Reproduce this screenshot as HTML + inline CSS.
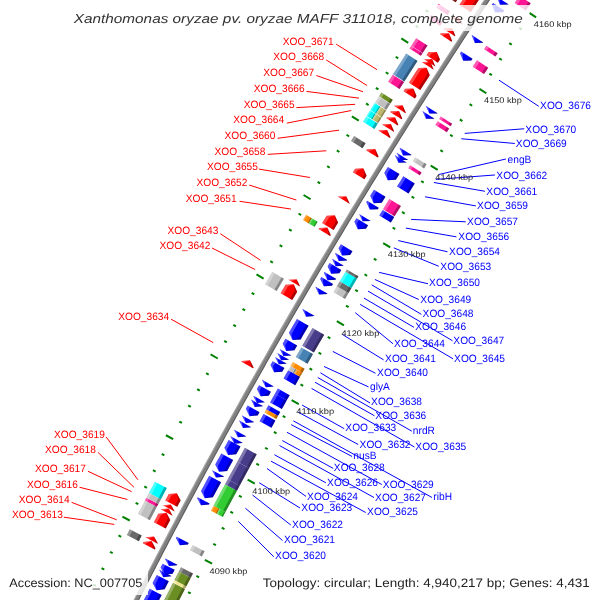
<!DOCTYPE html>
<html><head><meta charset="utf-8"><title>CGView</title>
<style>html,body{margin:0;padding:0;background:#fff;}svg{display:block;}text{text-rendering:geometricPrecision;}</style></head>
<body><svg width="600" height="600" viewBox="0 0 600 600" style="will-change:transform">
<rect width="600" height="600" fill="#fff"/>
<line x1="95.88" y1="586.01" x2="93.21" y2="584.65" stroke="#008000" stroke-width="2"/>
<line x1="171.46" y1="624.46" x2="174.13" y2="625.83" stroke="#008000" stroke-width="2"/>
<line x1="104.26" y1="569.59" x2="101.59" y2="568.22" stroke="#008000" stroke-width="2"/>
<line x1="179.73" y1="608.27" x2="182.40" y2="609.64" stroke="#008000" stroke-width="2"/>
<line x1="112.70" y1="553.20" x2="110.03" y2="551.82" stroke="#008000" stroke-width="2"/>
<line x1="188.05" y1="592.11" x2="190.71" y2="593.48" stroke="#008000" stroke-width="2"/>
<line x1="121.18" y1="536.83" x2="118.52" y2="535.44" stroke="#008000" stroke-width="2"/>
<line x1="196.41" y1="575.97" x2="199.07" y2="577.35" stroke="#008000" stroke-width="2"/>
<line x1="129.72" y1="520.49" x2="122.45" y2="516.68" stroke="#008000" stroke-width="2"/>
<line x1="204.83" y1="559.85" x2="212.09" y2="563.66" stroke="#008000" stroke-width="2"/>
<line x1="138.30" y1="504.17" x2="135.65" y2="502.77" stroke="#008000" stroke-width="2"/>
<line x1="213.29" y1="543.76" x2="215.94" y2="545.16" stroke="#008000" stroke-width="2"/>
<line x1="146.93" y1="487.88" x2="144.28" y2="486.47" stroke="#008000" stroke-width="2"/>
<line x1="221.80" y1="527.69" x2="224.45" y2="529.10" stroke="#008000" stroke-width="2"/>
<line x1="155.61" y1="471.61" x2="152.97" y2="470.20" stroke="#008000" stroke-width="2"/>
<line x1="230.36" y1="511.65" x2="233.01" y2="513.07" stroke="#008000" stroke-width="2"/>
<line x1="164.34" y1="455.38" x2="161.70" y2="453.95" stroke="#008000" stroke-width="2"/>
<line x1="238.97" y1="495.64" x2="241.61" y2="497.06" stroke="#008000" stroke-width="2"/>
<line x1="173.12" y1="439.16" x2="165.91" y2="435.25" stroke="#008000" stroke-width="2"/>
<line x1="247.63" y1="479.65" x2="254.83" y2="483.57" stroke="#008000" stroke-width="2"/>
<line x1="181.95" y1="422.98" x2="179.31" y2="421.54" stroke="#008000" stroke-width="2"/>
<line x1="256.33" y1="463.69" x2="258.96" y2="465.13" stroke="#008000" stroke-width="2"/>
<line x1="190.82" y1="406.82" x2="188.19" y2="405.37" stroke="#008000" stroke-width="2"/>
<line x1="265.09" y1="447.75" x2="267.71" y2="449.20" stroke="#008000" stroke-width="2"/>
<line x1="199.75" y1="390.69" x2="197.12" y2="389.23" stroke="#008000" stroke-width="2"/>
<line x1="273.89" y1="431.85" x2="276.51" y2="433.30" stroke="#008000" stroke-width="2"/>
<line x1="208.72" y1="374.58" x2="206.10" y2="373.12" stroke="#008000" stroke-width="2"/>
<line x1="282.73" y1="415.96" x2="285.35" y2="417.43" stroke="#008000" stroke-width="2"/>
<line x1="217.74" y1="358.50" x2="210.59" y2="354.48" stroke="#008000" stroke-width="2"/>
<line x1="291.63" y1="400.11" x2="298.78" y2="404.13" stroke="#008000" stroke-width="2"/>
<line x1="226.81" y1="342.45" x2="224.20" y2="340.97" stroke="#008000" stroke-width="2"/>
<line x1="300.57" y1="384.28" x2="303.18" y2="385.76" stroke="#008000" stroke-width="2"/>
<line x1="235.93" y1="326.43" x2="233.32" y2="324.94" stroke="#008000" stroke-width="2"/>
<line x1="309.57" y1="368.48" x2="312.17" y2="369.96" stroke="#008000" stroke-width="2"/>
<line x1="245.09" y1="310.43" x2="242.49" y2="308.94" stroke="#008000" stroke-width="2"/>
<line x1="318.61" y1="352.70" x2="321.21" y2="354.20" stroke="#008000" stroke-width="2"/>
<line x1="254.31" y1="294.46" x2="251.71" y2="292.96" stroke="#008000" stroke-width="2"/>
<line x1="327.69" y1="336.95" x2="330.29" y2="338.46" stroke="#008000" stroke-width="2"/>
<line x1="263.57" y1="278.52" x2="256.48" y2="274.39" stroke="#008000" stroke-width="2"/>
<line x1="336.83" y1="321.23" x2="343.91" y2="325.36" stroke="#008000" stroke-width="2"/>
<line x1="272.88" y1="262.61" x2="270.29" y2="261.09" stroke="#008000" stroke-width="2"/>
<line x1="346.01" y1="305.54" x2="348.59" y2="307.06" stroke="#008000" stroke-width="2"/>
<line x1="282.24" y1="246.72" x2="279.65" y2="245.20" stroke="#008000" stroke-width="2"/>
<line x1="355.24" y1="289.88" x2="357.82" y2="291.40" stroke="#008000" stroke-width="2"/>
<line x1="291.64" y1="230.87" x2="289.06" y2="229.33" stroke="#008000" stroke-width="2"/>
<line x1="364.51" y1="274.24" x2="367.09" y2="275.77" stroke="#008000" stroke-width="2"/>
<line x1="301.10" y1="215.04" x2="298.52" y2="213.50" stroke="#008000" stroke-width="2"/>
<line x1="373.83" y1="258.63" x2="376.41" y2="260.17" stroke="#008000" stroke-width="2"/>
<line x1="310.60" y1="199.24" x2="303.58" y2="195.00" stroke="#008000" stroke-width="2"/>
<line x1="383.20" y1="243.05" x2="390.22" y2="247.29" stroke="#008000" stroke-width="2"/>
<line x1="320.14" y1="183.47" x2="317.58" y2="181.91" stroke="#008000" stroke-width="2"/>
<line x1="392.62" y1="227.50" x2="395.18" y2="229.06" stroke="#008000" stroke-width="2"/>
<line x1="329.74" y1="167.73" x2="327.18" y2="166.16" stroke="#008000" stroke-width="2"/>
<line x1="402.08" y1="211.97" x2="404.64" y2="213.54" stroke="#008000" stroke-width="2"/>
<line x1="339.38" y1="152.01" x2="336.83" y2="150.44" stroke="#008000" stroke-width="2"/>
<line x1="411.59" y1="196.48" x2="414.15" y2="198.05" stroke="#008000" stroke-width="2"/>
<line x1="349.07" y1="136.33" x2="346.52" y2="134.75" stroke="#008000" stroke-width="2"/>
<line x1="421.15" y1="181.01" x2="423.70" y2="182.59" stroke="#008000" stroke-width="2"/>
<line x1="358.81" y1="120.67" x2="351.86" y2="116.33" stroke="#008000" stroke-width="2"/>
<line x1="430.75" y1="165.57" x2="437.71" y2="169.91" stroke="#008000" stroke-width="2"/>
<line x1="368.60" y1="105.05" x2="366.06" y2="103.45" stroke="#008000" stroke-width="2"/>
<line x1="440.40" y1="150.16" x2="442.94" y2="151.76" stroke="#008000" stroke-width="2"/>
<line x1="378.43" y1="89.45" x2="375.89" y2="87.85" stroke="#008000" stroke-width="2"/>
<line x1="450.10" y1="134.78" x2="452.63" y2="136.39" stroke="#008000" stroke-width="2"/>
<line x1="388.31" y1="73.89" x2="385.78" y2="72.28" stroke="#008000" stroke-width="2"/>
<line x1="459.84" y1="119.43" x2="462.37" y2="121.04" stroke="#008000" stroke-width="2"/>
<line x1="398.23" y1="58.35" x2="395.71" y2="56.73" stroke="#008000" stroke-width="2"/>
<line x1="469.63" y1="104.11" x2="472.15" y2="105.73" stroke="#008000" stroke-width="2"/>
<line x1="408.20" y1="42.84" x2="401.31" y2="38.40" stroke="#008000" stroke-width="2"/>
<line x1="479.46" y1="88.82" x2="486.35" y2="93.27" stroke="#008000" stroke-width="2"/>
<line x1="418.22" y1="27.37" x2="415.71" y2="25.73" stroke="#008000" stroke-width="2"/>
<line x1="489.34" y1="73.56" x2="491.86" y2="75.19" stroke="#008000" stroke-width="2"/>
<line x1="428.29" y1="11.92" x2="425.78" y2="10.28" stroke="#008000" stroke-width="2"/>
<line x1="499.27" y1="58.33" x2="501.78" y2="59.97" stroke="#008000" stroke-width="2"/>
<line x1="438.40" y1="-3.49" x2="435.89" y2="-5.14" stroke="#008000" stroke-width="2"/>
<line x1="509.24" y1="43.12" x2="511.74" y2="44.77" stroke="#008000" stroke-width="2"/>
<line x1="448.56" y1="-18.88" x2="446.06" y2="-20.54" stroke="#008000" stroke-width="2"/>
<line x1="519.25" y1="27.95" x2="521.76" y2="29.61" stroke="#008000" stroke-width="2"/>
<line x1="458.76" y1="-34.23" x2="451.94" y2="-38.78" stroke="#008000" stroke-width="2"/>
<line x1="529.32" y1="12.81" x2="536.14" y2="17.36" stroke="#008000" stroke-width="2"/>
<line x1="469.01" y1="-49.56" x2="466.52" y2="-51.23" stroke="#008000" stroke-width="2"/>
<line x1="539.43" y1="-2.30" x2="541.92" y2="-0.63" stroke="#008000" stroke-width="2"/>
<line x1="479.31" y1="-64.85" x2="476.82" y2="-66.53" stroke="#008000" stroke-width="2"/>
<line x1="549.58" y1="-17.38" x2="552.07" y2="-15.71" stroke="#008000" stroke-width="2"/>
<polygon points="114.93,636.80 117.64,631.39 120.37,625.97 123.10,620.56 125.83,615.16 128.57,609.75 131.32,604.35 134.07,598.95 136.82,593.55 139.58,588.16 142.35,582.77 145.12,577.38 147.90,571.99 150.68,566.61 153.47,561.23 156.26,555.85 159.06,550.48 161.86,545.11 164.67,539.74 167.49,534.37 170.31,529.01 173.13,523.65 175.96,518.29 178.80,512.94 181.64,507.58 184.49,502.24 187.34,496.89 190.20,491.55 193.06,486.20 195.93,480.87 198.80,475.53 201.68,470.20 204.56,464.87 207.45,459.54 210.35,454.22 213.25,448.90 216.15,443.58 219.06,438.27 221.98,432.96 224.90,427.65 227.83,422.34 230.76,417.04 233.69,411.74 236.64,406.44 239.58,401.15 242.54,395.85 245.49,390.57 248.46,385.28 251.43,380.00 254.40,374.72 257.38,369.44 260.36,364.17 263.35,358.90 266.35,353.63 269.35,348.36 272.35,343.10 275.36,337.84 278.38,332.59 281.40,327.34 284.42,322.09 287.46,316.84 290.49,311.60 293.53,306.35 296.58,301.12 299.63,295.88 302.69,290.65 305.75,285.42 308.82,280.20 311.89,274.97 314.97,269.76 318.06,264.54 321.14,259.33 324.24,254.12 327.34,248.91 330.44,243.70 333.55,238.50 336.67,233.31 339.79,228.11 342.91,222.92 346.04,217.73 349.18,212.55 352.32,207.36 355.46,202.18 358.61,197.01 361.77,191.84 364.93,186.67 368.09,181.50 371.27,176.34 374.44,171.18 377.62,166.02 380.81,160.87 384.00,155.71 387.20,150.57 390.40,145.42 393.61,140.28 396.82,135.14 400.04,130.01 403.26,124.88 406.49,119.75 409.72,114.62 412.96,109.50 416.20,104.38 419.45,99.27 422.70,94.16 425.96,89.05 429.22,83.94 432.49,78.84 435.77,73.74 439.05,68.64 442.33,63.55 445.62,58.46 448.91,53.38 452.21,48.29 455.51,43.21 458.82,38.14 462.14,33.06 465.46,27.99 468.78,22.93 472.11,17.86 475.44,12.81 478.78,7.75 482.13,2.70 485.48,-2.35 488.83,-7.40 492.19,-12.44 495.55,-17.48 498.92,-22.52 502.30,-27.55 505.68,-32.58 509.06,-37.61 512.45,-42.63 515.84,-47.65 519.24,-52.67 522.65,-57.68 526.78,-54.87 523.38,-49.86 519.99,-44.85 516.59,-39.83 513.21,-34.81 509.83,-29.79 506.45,-24.77 503.08,-19.74 499.71,-14.70 496.35,-9.67 492.99,-4.63 489.64,0.41 486.29,5.46 482.95,10.51 479.62,15.56 476.29,20.61 472.96,25.67 469.64,30.74 466.32,35.80 463.01,40.87 459.70,45.94 456.40,51.02 453.11,56.10 449.82,61.18 446.53,66.26 443.25,71.35 439.97,76.44 436.70,81.54 433.44,86.64 430.18,91.74 426.92,96.84 423.67,101.95 420.42,107.06 417.18,112.18 413.95,117.29 410.72,122.41 407.49,127.54 404.27,132.67 401.06,137.80 397.85,142.93 394.65,148.07 391.45,153.21 388.25,158.35 385.06,163.50 381.88,168.65 378.70,173.80 375.53,178.96 372.36,184.11 369.19,189.28 366.03,194.44 362.88,199.61 359.73,204.78 356.59,209.96 353.45,215.14 350.32,220.32 347.19,225.50 344.07,230.69 340.95,235.88 337.84,241.07 334.73,246.27 331.63,251.47 328.54,256.67 325.45,261.88 322.36,267.09 319.28,272.30 316.20,277.51 313.13,282.73 310.07,287.95 307.01,293.18 303.95,298.40 300.90,303.63 297.86,308.87 294.82,314.10 291.78,319.34 288.76,324.59 285.73,329.83 282.71,335.08 279.70,340.33 276.69,345.59 273.69,350.84 270.69,356.10 267.70,361.37 264.71,366.63 261.73,371.90 258.75,377.17 255.78,382.45 252.82,387.73 249.86,393.01 246.90,398.29 243.95,403.58 241.01,408.87 238.07,414.16 235.13,419.46 232.20,424.76 229.28,430.06 226.36,435.36 223.45,440.67 220.54,445.98 217.64,451.30 214.74,456.61 211.85,461.93 208.96,467.25 206.08,472.58 203.20,477.91 200.33,483.24 197.47,488.57 194.61,493.91 191.75,499.24 188.90,504.59 186.06,509.93 183.22,515.28 180.38,520.63 177.56,525.98 174.73,531.34 171.92,536.70 169.10,542.06 166.30,547.42 163.49,552.79 160.70,558.16 157.91,563.53 155.12,568.91 152.34,574.29 149.57,579.67 146.80,585.05 144.03,590.44 141.27,595.83 138.52,601.22 135.77,606.62 133.03,612.01 130.29,617.41 127.56,622.82 124.83,628.22 122.11,633.63 119.40,639.04" fill="#808080" />
<polygon points="114.93,636.80 117.64,631.39 120.37,625.97 123.10,620.56 125.83,615.16 128.57,609.75 131.32,604.35 134.07,598.95 136.82,593.55 139.58,588.16 142.35,582.77 145.12,577.38 147.90,571.99 150.68,566.61 153.47,561.23 156.26,555.85 159.06,550.48 161.86,545.11 164.67,539.74 167.49,534.37 170.31,529.01 173.13,523.65 175.96,518.29 178.80,512.94 181.64,507.58 184.49,502.24 187.34,496.89 190.20,491.55 193.06,486.20 195.93,480.87 198.80,475.53 201.68,470.20 204.56,464.87 207.45,459.54 210.35,454.22 213.25,448.90 216.15,443.58 219.06,438.27 221.98,432.96 224.90,427.65 227.83,422.34 230.76,417.04 233.69,411.74 236.64,406.44 239.58,401.15 242.54,395.85 245.49,390.57 248.46,385.28 251.43,380.00 254.40,374.72 257.38,369.44 260.36,364.17 263.35,358.90 266.35,353.63 269.35,348.36 272.35,343.10 275.36,337.84 278.38,332.59 281.40,327.34 284.42,322.09 287.46,316.84 290.49,311.60 293.53,306.35 296.58,301.12 299.63,295.88 302.69,290.65 305.75,285.42 308.82,280.20 311.89,274.97 314.97,269.76 318.06,264.54 321.14,259.33 324.24,254.12 327.34,248.91 330.44,243.70 333.55,238.50 336.67,233.31 339.79,228.11 342.91,222.92 346.04,217.73 349.18,212.55 352.32,207.36 355.46,202.18 358.61,197.01 361.77,191.84 364.93,186.67 368.09,181.50 371.27,176.34 374.44,171.18 377.62,166.02 380.81,160.87 384.00,155.71 387.20,150.57 390.40,145.42 393.61,140.28 396.82,135.14 400.04,130.01 403.26,124.88 406.49,119.75 409.72,114.62 412.96,109.50 416.20,104.38 419.45,99.27 422.70,94.16 425.96,89.05 429.22,83.94 432.49,78.84 435.77,73.74 439.05,68.64 442.33,63.55 445.62,58.46 448.91,53.38 452.21,48.29 455.51,43.21 458.82,38.14 462.14,33.06 465.46,27.99 468.78,22.93 472.11,17.86 475.44,12.81 478.78,7.75 482.13,2.70 485.48,-2.35 488.83,-7.40 492.19,-12.44 495.55,-17.48 498.92,-22.52 502.30,-27.55 505.68,-32.58 509.06,-37.61 512.45,-42.63 515.84,-47.65 519.24,-52.67 522.65,-57.68 523.56,-57.06 520.15,-52.05 516.76,-47.03 513.36,-42.02 509.97,-36.99 506.59,-31.97 503.21,-26.94 499.84,-21.91 496.47,-16.87 493.10,-11.83 489.75,-6.79 486.39,-1.75 483.04,3.30 479.70,8.36 476.36,13.41 473.03,18.47 469.70,23.53 466.38,28.60 463.06,33.67 459.74,38.74 456.44,43.81 453.13,48.89 449.83,53.97 446.54,59.06 443.25,64.15 439.97,69.24 436.69,74.33 433.42,79.43 430.15,84.53 426.89,89.64 423.63,94.75 420.38,99.86 417.13,104.97 413.89,110.09 410.65,115.21 407.42,120.34 404.19,125.46 400.97,130.59 397.75,135.73 394.54,140.86 391.34,146.00 388.13,151.15 384.94,156.29 381.75,161.44 378.56,166.60 375.38,171.75 372.20,176.91 369.03,182.07 365.87,187.24 362.71,192.41 359.55,197.58 356.40,202.76 353.26,207.93 350.12,213.12 346.98,218.30 343.85,223.49 340.73,228.68 337.61,233.87 334.49,239.07 331.39,244.27 328.28,249.47 325.18,254.68 322.09,259.89 319.00,265.10 315.92,270.31 312.84,275.53 309.77,280.75 306.70,285.98 303.64,291.21 300.58,296.44 297.53,301.67 294.49,306.91 291.44,312.15 288.41,317.39 285.38,322.64 282.35,327.88 279.33,333.14 276.32,338.39 273.31,343.65 270.30,348.91 267.30,354.17 264.31,359.44 261.32,364.71 258.34,369.98 255.36,375.26 252.38,380.54 249.42,385.82 246.45,391.10 243.50,396.39 240.54,401.68 237.60,406.98 234.66,412.27 231.72,417.57 228.79,422.87 225.86,428.18 222.94,433.49 220.03,438.80 217.12,444.11 214.21,449.43 211.31,454.75 208.42,460.07 205.53,465.39 202.65,470.72 199.77,476.05 196.90,481.39 194.03,486.73 191.17,492.06 188.31,497.41 185.46,502.75 182.61,508.10 179.77,513.45 176.94,518.81 174.11,524.16 171.28,529.52 168.46,534.88 165.65,540.25 162.84,545.62 160.04,550.99 157.24,556.36 154.45,561.74 151.66,567.12 148.88,572.50 146.10,577.88 143.33,583.27 140.56,588.66 137.80,594.05 135.05,599.45 132.30,604.85 129.55,610.25 126.81,615.65 124.08,621.06 121.35,626.47 118.63,631.88 115.91,637.30" fill="#fff" fill-opacity="0.3"/>
<polygon points="118.50,638.59 121.22,633.18 123.94,627.77 126.67,622.37 129.40,616.96 132.14,611.56 134.88,606.16 137.63,600.77 140.38,595.37 143.14,589.98 145.91,584.60 148.68,579.21 151.45,573.83 154.23,568.45 157.02,563.07 159.81,557.70 162.61,552.33 165.41,546.96 168.22,541.60 171.03,536.23 173.85,530.87 176.67,525.52 179.50,520.16 182.33,514.81 185.17,509.46 188.02,504.12 190.87,498.77 193.72,493.43 196.59,488.10 199.45,482.76 202.32,477.43 205.20,472.10 208.08,466.78 210.97,461.45 213.86,456.13 216.76,450.82 219.66,445.50 222.57,440.19 225.48,434.88 228.40,429.58 231.33,424.27 234.26,418.97 237.19,413.68 240.13,408.38 243.08,403.09 246.03,397.81 248.98,392.52 251.95,387.24 254.91,381.96 257.88,376.68 260.86,371.41 263.84,366.14 266.83,360.87 269.82,355.61 272.82,350.35 275.82,345.09 278.83,339.83 281.85,334.58 284.87,329.33 287.89,324.09 290.92,318.84 293.95,313.60 296.99,308.36 300.04,303.13 303.09,297.90 306.14,292.67 309.20,287.45 312.27,282.22 315.34,277.00 318.42,271.79 321.50,266.58 324.59,261.37 327.68,256.16 330.77,250.96 333.88,245.76 336.98,240.56 340.10,235.36 343.21,230.17 346.34,224.98 349.46,219.80 352.60,214.62 355.74,209.44 358.88,204.26 362.03,199.09 365.18,193.92 368.34,188.75 371.50,183.59 374.67,178.43 377.85,173.27 381.03,168.12 384.21,162.97 387.40,157.82 390.60,152.68 393.80,147.54 397.00,142.40 400.21,137.27 403.43,132.13 406.65,127.01 409.87,121.88 413.10,116.76 416.34,111.64 419.58,106.53 422.83,101.41 426.08,96.30 429.33,91.20 432.59,86.10 435.86,81.00 439.13,75.90 442.41,70.81 445.69,65.72 448.98,60.63 452.27,55.55 455.56,50.47 458.87,45.40 462.17,40.32 465.48,35.25 468.80,30.19 472.12,25.12 475.45,20.06 478.78,15.01 482.12,9.95 485.46,4.91 488.81,-0.14 492.16,-5.18 495.52,-10.22 498.88,-15.26 502.25,-20.29 505.62,-25.32 509.00,-30.35 512.38,-35.37 515.76,-40.39 519.16,-45.41 522.55,-50.42 525.96,-55.43 526.78,-54.87 523.38,-49.86 519.99,-44.85 516.59,-39.83 513.21,-34.81 509.83,-29.79 506.45,-24.77 503.08,-19.74 499.71,-14.70 496.35,-9.67 492.99,-4.63 489.64,0.41 486.29,5.46 482.95,10.51 479.62,15.56 476.29,20.61 472.96,25.67 469.64,30.74 466.32,35.80 463.01,40.87 459.70,45.94 456.40,51.02 453.11,56.10 449.82,61.18 446.53,66.26 443.25,71.35 439.97,76.44 436.70,81.54 433.44,86.64 430.18,91.74 426.92,96.84 423.67,101.95 420.42,107.06 417.18,112.18 413.95,117.29 410.72,122.41 407.49,127.54 404.27,132.67 401.06,137.80 397.85,142.93 394.65,148.07 391.45,153.21 388.25,158.35 385.06,163.50 381.88,168.65 378.70,173.80 375.53,178.96 372.36,184.11 369.19,189.28 366.03,194.44 362.88,199.61 359.73,204.78 356.59,209.96 353.45,215.14 350.32,220.32 347.19,225.50 344.07,230.69 340.95,235.88 337.84,241.07 334.73,246.27 331.63,251.47 328.54,256.67 325.45,261.88 322.36,267.09 319.28,272.30 316.20,277.51 313.13,282.73 310.07,287.95 307.01,293.18 303.95,298.40 300.90,303.63 297.86,308.87 294.82,314.10 291.78,319.34 288.76,324.59 285.73,329.83 282.71,335.08 279.70,340.33 276.69,345.59 273.69,350.84 270.69,356.10 267.70,361.37 264.71,366.63 261.73,371.90 258.75,377.17 255.78,382.45 252.82,387.73 249.86,393.01 246.90,398.29 243.95,403.58 241.01,408.87 238.07,414.16 235.13,419.46 232.20,424.76 229.28,430.06 226.36,435.36 223.45,440.67 220.54,445.98 217.64,451.30 214.74,456.61 211.85,461.93 208.96,467.25 206.08,472.58 203.20,477.91 200.33,483.24 197.47,488.57 194.61,493.91 191.75,499.24 188.90,504.59 186.06,509.93 183.22,515.28 180.38,520.63 177.56,525.98 174.73,531.34 171.92,536.70 169.10,542.06 166.30,547.42 163.49,552.79 160.70,558.16 157.91,563.53 155.12,568.91 152.34,574.29 149.57,579.67 146.80,585.05 144.03,590.44 141.27,595.83 138.52,601.22 135.77,606.62 133.03,612.01 130.29,617.41 127.56,622.82 124.83,628.22 122.11,633.63 119.40,639.04" fill="#000" fill-opacity="0.3"/>
<polygon points="142.83,543.22 143.46,542.00 151.57,541.05 155.43,548.24 154.80,549.46" fill="#ff0000" />
<polygon points="142.83,543.22 143.46,542.00 151.57,541.05 146.10,543.37 145.46,544.59" fill="#fff" fill-opacity="0.3"/>
<polygon points="152.40,548.21 153.04,546.99 151.57,541.05 155.43,548.24 154.80,549.46" fill="#000" fill-opacity="0.3"/>
<polygon points="145.80,537.52 145.89,537.36 153.99,536.42 157.85,543.61 157.77,543.77" fill="#ff0000" />
<polygon points="145.80,537.52 145.89,537.36 153.99,536.42 148.52,538.73 148.43,538.90" fill="#fff" fill-opacity="0.3"/>
<polygon points="155.37,542.52 155.46,542.36 153.99,536.42 157.85,543.61 157.77,543.77" fill="#000" fill-opacity="0.3"/>
<polygon points="153.82,522.23 156.07,517.96 158.32,513.70 166.43,512.79 170.25,520.00 168.01,524.26 165.77,528.51" fill="#ff0000" />
<polygon points="153.82,522.23 156.07,517.96 158.32,513.70 166.43,512.79 160.94,515.08 158.69,519.35 156.45,523.61" fill="#fff" fill-opacity="0.3"/>
<polygon points="163.38,527.26 165.62,523.00 167.87,518.74 166.43,512.79 170.25,520.00 168.01,524.26 165.77,528.51" fill="#000" fill-opacity="0.3"/>
<polygon points="160.63,509.31 168.66,508.58 172.57,515.63" fill="#ff0000" />
<polygon points="160.63,509.31 168.66,508.58 163.26,510.70" fill="#fff" fill-opacity="0.3"/>
<polygon points="170.18,514.36 168.66,508.58 172.57,515.63" fill="#000" fill-opacity="0.3"/>
<polygon points="162.83,505.17 170.77,504.61 174.75,511.50" fill="#ff0000" />
<polygon points="162.83,505.17 170.77,504.61 165.45,506.56" fill="#fff" fill-opacity="0.3"/>
<polygon points="172.37,510.23 170.77,504.61 174.75,511.50" fill="#000" fill-opacity="0.3"/>
<polygon points="165.32,500.47 167.03,497.26 168.73,494.06 176.85,493.19 180.65,500.41 178.94,503.60 177.25,506.80" fill="#ff0000" />
<polygon points="165.32,500.47 167.03,497.26 168.73,494.06 176.85,493.19 171.35,495.46 169.65,498.66 167.95,501.86" fill="#fff" fill-opacity="0.3"/>
<polygon points="174.86,505.53 176.56,502.34 178.26,499.14 176.85,493.19 180.65,500.41 178.94,503.60 177.25,506.80" fill="#000" fill-opacity="0.3"/>
<polygon points="241.37,361.69 241.82,360.89 249.96,360.22 253.58,367.53 253.13,368.33" fill="#ff0000" />
<polygon points="241.37,361.69 241.82,360.89 249.96,360.22 244.41,362.35 243.96,363.15" fill="#fff" fill-opacity="0.3"/>
<polygon points="250.77,367.00 251.23,366.20 249.96,360.22 253.58,367.53 253.13,368.33" fill="#000" fill-opacity="0.3"/>
<polygon points="280.58,293.33 283.05,289.08 285.53,284.84 293.67,284.28 297.18,291.65 294.71,295.88 292.24,300.12" fill="#ff0000" />
<polygon points="280.58,293.33 283.05,289.08 285.53,284.84 293.67,284.28 288.09,286.34 285.62,290.58 283.14,294.82" fill="#fff" fill-opacity="0.3"/>
<polygon points="289.91,298.76 292.38,294.52 294.85,290.29 293.67,284.28 297.18,291.65 294.71,295.88 292.24,300.12" fill="#000" fill-opacity="0.3"/>
<polygon points="288.50,279.77 296.59,279.30 300.15,286.59" fill="#ff0000" />
<polygon points="288.50,279.77 296.59,279.30 291.06,281.27" fill="#fff" fill-opacity="0.3"/>
<polygon points="297.82,285.22 296.59,279.30 300.15,286.59" fill="#000" fill-opacity="0.3"/>
<polygon points="318.58,228.95 319.15,228.00 327.30,227.53 330.73,234.94 330.17,235.88" fill="#ff0000" />
<polygon points="318.58,228.95 319.15,228.00 327.30,227.53 321.70,229.53 321.13,230.47" fill="#fff" fill-opacity="0.3"/>
<polygon points="327.85,234.49 328.42,233.55 327.30,227.53 330.73,234.94 330.17,235.88" fill="#000" fill-opacity="0.3"/>
<polygon points="322.08,223.12 324.33,219.38 326.57,215.64 334.72,215.19 338.14,222.60 335.90,226.33 333.65,230.06" fill="#ff0000" />
<polygon points="322.08,223.12 324.33,219.38 326.57,215.64 334.72,215.19 329.12,217.17 326.87,220.91 324.63,224.65" fill="#fff" fill-opacity="0.3"/>
<polygon points="331.34,228.67 333.58,224.94 335.83,221.21 334.72,215.19 338.14,222.60 335.90,226.33 333.65,230.06" fill="#000" fill-opacity="0.3"/>
<polygon points="338.03,196.70 338.07,196.62 346.23,196.20 349.61,203.62 349.57,203.70" fill="#ff0000" />
<polygon points="338.03,196.70 338.07,196.62 346.23,196.20 340.61,198.16 340.57,198.24" fill="#fff" fill-opacity="0.3"/>
<polygon points="347.26,202.30 347.31,202.22 346.23,196.20 349.61,203.62 349.57,203.70" fill="#000" fill-opacity="0.3"/>
<polygon points="352.91,172.31 355.12,168.71 363.27,168.34 366.62,175.78 364.41,179.37" fill="#ff0000" />
<polygon points="352.91,172.31 355.12,168.71 363.27,168.34 357.65,170.27 355.44,173.87" fill="#fff" fill-opacity="0.3"/>
<polygon points="362.11,177.96 364.32,174.37 363.27,168.34 366.62,175.78 364.41,179.37" fill="#000" fill-opacity="0.3"/>
<polygon points="366.35,150.50 367.08,149.33 375.23,148.98 378.55,156.44 377.83,157.61" fill="#ff0000" />
<polygon points="366.35,150.50 367.08,149.33 375.23,148.98 369.60,150.89 368.88,152.06" fill="#fff" fill-opacity="0.3"/>
<polygon points="375.53,156.19 376.26,155.02 375.23,148.98 378.55,156.44 377.83,157.61" fill="#000" fill-opacity="0.3"/>
<polygon points="378.58,130.84 378.96,130.22 387.12,129.91 390.41,137.37 390.03,138.00" fill="#ff0000" />
<polygon points="378.58,130.84 378.96,130.22 387.12,129.91 381.48,131.79 381.09,132.42" fill="#fff" fill-opacity="0.3"/>
<polygon points="387.74,136.57 388.12,135.94 387.12,129.91 390.41,137.37 390.03,138.00" fill="#000" fill-opacity="0.3"/>
<polygon points="382.42,124.69 382.72,124.23 390.87,123.92 394.16,131.39 393.86,131.86" fill="#ff0000" />
<polygon points="382.42,124.69 382.72,124.23 390.87,123.92 385.23,125.80 384.94,126.27" fill="#fff" fill-opacity="0.3"/>
<polygon points="391.58,130.42 391.87,129.96 390.87,123.92 394.16,131.39 393.86,131.86" fill="#000" fill-opacity="0.3"/>
<polygon points="386.42,118.31 386.86,117.61 395.02,117.32 398.30,124.79 397.86,125.49" fill="#ff0000" />
<polygon points="386.42,118.31 386.86,117.61 395.02,117.32 389.38,119.19 388.94,119.89" fill="#fff" fill-opacity="0.3"/>
<polygon points="395.57,124.05 396.01,123.36 395.02,117.32 398.30,124.79 397.86,125.49" fill="#000" fill-opacity="0.3"/>
<polygon points="390.29,112.17 390.82,111.31 398.98,111.03 402.25,118.51 401.71,119.36" fill="#ff0000" />
<polygon points="390.29,112.17 390.82,111.31 398.98,111.03 393.34,112.90 392.80,113.75" fill="#fff" fill-opacity="0.3"/>
<polygon points="399.43,117.92 399.96,117.07 398.98,111.03 402.25,118.51 401.71,119.36" fill="#000" fill-opacity="0.3"/>
<polygon points="394.20,105.95 394.40,105.64 402.56,105.37 405.82,112.85 405.62,113.16" fill="#ff0000" />
<polygon points="394.20,105.95 394.40,105.64 402.56,105.37 396.91,107.23 396.72,107.54" fill="#fff" fill-opacity="0.3"/>
<polygon points="403.34,111.72 403.53,111.41 402.56,105.37 405.82,112.85 405.62,113.16" fill="#000" fill-opacity="0.3"/>
<polygon points="403.54,91.21 405.17,88.65 413.33,88.40 416.56,95.90 414.94,98.45" fill="#ff0000" />
<polygon points="403.54,91.21 405.17,88.65 413.33,88.40 407.67,90.24 406.05,92.80" fill="#fff" fill-opacity="0.3"/>
<polygon points="412.66,97.00 414.28,94.45 413.33,88.40 416.56,95.90 414.94,98.45" fill="#000" fill-opacity="0.3"/>
<polygon points="408.92,82.76 412.08,77.81 415.25,72.86 418.42,67.91 426.58,67.69 429.78,75.20 426.61,80.14 423.45,85.08 420.30,90.02" fill="#ff0000" />
<polygon points="408.92,82.76 412.08,77.81 415.25,72.86 418.42,67.91 426.58,67.69 420.92,69.51 417.75,74.46 414.58,79.41 411.42,84.36" fill="#fff" fill-opacity="0.3"/>
<polygon points="418.02,88.57 421.18,83.62 424.34,78.68 427.51,73.74 426.58,67.69 429.78,75.20 426.61,80.14 423.45,85.08 420.30,90.02" fill="#000" fill-opacity="0.3"/>
<polygon points="422.04,62.27 422.19,62.03 430.35,61.83 433.54,69.34 433.40,69.57" fill="#ff0000" />
<polygon points="422.04,62.27 422.19,62.03 430.35,61.83 424.69,63.64 424.54,63.87" fill="#fff" fill-opacity="0.3"/>
<polygon points="431.12,68.11 431.27,67.88 430.35,61.83 433.54,69.34 433.40,69.57" fill="#000" fill-opacity="0.3"/>
<polygon points="423.98,59.25 432.14,59.05 435.33,66.56" fill="#ff0000" />
<polygon points="423.98,59.25 432.14,59.05 426.48,60.86" fill="#fff" fill-opacity="0.3"/>
<polygon points="433.06,65.10 432.14,59.05 435.33,66.56" fill="#000" fill-opacity="0.3"/>
<polygon points="426.52,55.32 428.61,52.08 436.77,51.89 439.95,59.40 437.86,62.63" fill="#ff0000" />
<polygon points="426.52,55.32 428.61,52.08 436.77,51.89 431.10,53.69 429.01,56.93" fill="#fff" fill-opacity="0.3"/>
<polygon points="435.59,61.17 437.68,57.94 436.77,51.89 439.95,59.40 437.86,62.63" fill="#000" fill-opacity="0.3"/>
<polygon points="440.15,34.27 440.75,33.35 448.92,33.19 452.07,40.72 451.47,41.64" fill="#ff0000" />
<polygon points="440.15,34.27 440.75,33.35 448.92,33.19 443.24,34.97 442.64,35.89" fill="#fff" fill-opacity="0.3"/>
<polygon points="449.20,40.17 449.81,39.24 448.92,33.19 452.07,40.72 451.47,41.64" fill="#000" fill-opacity="0.3"/>
<polygon points="443.66,28.89 444.02,28.35 452.18,28.20 455.32,35.73 454.97,36.26" fill="#ff0000" />
<polygon points="443.66,28.89 444.02,28.35 452.18,28.20 446.50,29.97 446.15,30.51" fill="#fff" fill-opacity="0.3"/>
<polygon points="452.71,34.79 453.06,34.25 452.18,28.20 455.32,35.73 454.97,36.26" fill="#000" fill-opacity="0.3"/>
<polygon points="451.20,17.36 459.27,17.38 462.49,24.76" fill="#ff0000" />
<polygon points="451.20,17.36 459.27,17.38 453.69,18.99" fill="#fff" fill-opacity="0.3"/>
<polygon points="460.24,23.28 459.27,17.38 462.49,24.76" fill="#000" fill-opacity="0.3"/>
<polygon points="459.43,4.85 462.59,0.06 465.76,-4.73 468.93,-9.52 472.10,-14.30 480.26,-14.38 483.35,-6.83 480.18,-2.06 477.01,2.72 473.86,7.50 470.70,12.28" fill="#ff0000" />
<polygon points="459.43,4.85 462.59,0.06 465.76,-4.73 468.93,-9.52 472.10,-14.30 480.26,-14.38 474.58,-12.66 471.40,-7.88 468.23,-3.09 465.07,1.69 461.91,6.48" fill="#fff" fill-opacity="0.3"/>
<polygon points="468.45,10.79 471.60,6.01 474.76,1.23 477.93,-3.55 481.10,-8.32 480.26,-14.38 483.35,-6.83 480.18,-2.06 477.01,2.72 473.86,7.50 470.70,12.28" fill="#000" fill-opacity="0.3"/>
<polygon points="149.67,588.76 147.03,593.91 144.39,599.07 141.76,604.22 145.70,611.36 153.79,610.36 156.41,605.21 159.05,600.06 161.68,594.92" fill="#0000ff" />
<polygon points="149.67,588.76 147.03,593.91 144.39,599.07 141.76,604.22 145.70,611.36 144.41,605.57 147.04,600.42 149.67,595.26 152.31,590.11" fill="#fff" fill-opacity="0.3"/>
<polygon points="159.28,593.69 156.64,598.83 154.01,603.98 151.38,609.13 145.70,611.36 153.79,610.36 156.41,605.21 159.05,600.06 161.68,594.92" fill="#000" fill-opacity="0.3"/>
<polygon points="156.79,574.94 154.69,579.00 152.60,583.06 156.51,590.21 164.60,589.24 166.69,585.19 168.78,581.13" fill="#0000ff" />
<polygon points="156.79,574.94 154.69,579.00 152.60,583.06 156.51,590.21 155.24,584.42 157.33,580.36 159.43,576.30" fill="#fff" fill-opacity="0.3"/>
<polygon points="166.38,579.89 164.29,583.95 162.20,588.01 156.51,590.21 164.60,589.24 166.69,585.19 168.78,581.13" fill="#000" fill-opacity="0.3"/>
<polygon points="159.44,569.82 159.31,570.06 163.21,577.22 171.30,576.27 171.42,576.03" fill="#0000ff" />
<polygon points="159.44,569.82 159.31,570.06 163.21,577.22 161.95,571.43 162.07,571.19" fill="#fff" fill-opacity="0.3"/>
<polygon points="169.03,574.79 168.90,575.03 163.21,577.22 171.30,576.27 171.42,576.03" fill="#000" fill-opacity="0.3"/>
<polygon points="162.63,563.65 160.61,567.55 164.51,574.71 172.60,573.76 174.62,569.87" fill="#0000ff" />
<polygon points="162.63,563.65 160.61,567.55 164.51,574.71 163.25,568.91 165.27,565.02" fill="#fff" fill-opacity="0.3"/>
<polygon points="172.22,568.63 170.20,572.52 164.51,574.71 172.60,573.76 174.62,569.87" fill="#000" fill-opacity="0.3"/>
<polygon points="165.33,558.46 165.08,558.94 168.96,566.11 177.06,565.18 177.31,564.69" fill="#0000ff" />
<polygon points="165.33,558.46 165.08,558.94 168.96,566.11 167.72,560.32 167.97,559.83" fill="#fff" fill-opacity="0.3"/>
<polygon points="174.91,563.44 174.66,563.93 168.96,566.11 177.06,565.18 177.31,564.69" fill="#000" fill-opacity="0.3"/>
<polygon points="176.74,536.66 175.97,538.12 179.82,545.30 187.92,544.40 188.68,542.94" fill="#0000ff" />
<polygon points="176.74,536.66 175.97,538.12 179.82,545.30 178.60,539.50 179.36,538.04" fill="#fff" fill-opacity="0.3"/>
<polygon points="186.29,541.69 185.53,543.14 179.82,545.30 187.92,544.40 188.68,542.94" fill="#000" fill-opacity="0.3"/>
<polygon points="197.64,497.24 197.17,498.13 200.97,505.34 209.07,504.49 209.55,503.61" fill="#0000ff" />
<polygon points="197.64,497.24 197.17,498.13 200.97,505.34 199.79,499.53 200.26,498.64" fill="#fff" fill-opacity="0.3"/>
<polygon points="207.16,502.33 206.69,503.22 200.97,505.34 209.07,504.49 209.55,503.61" fill="#000" fill-opacity="0.3"/>
<polygon points="209.20,475.73 206.47,480.80 203.74,485.88 201.01,490.95 204.80,498.17 212.91,497.33 215.63,492.27 218.35,487.21 221.08,482.15" fill="#0000ff" />
<polygon points="209.20,475.73 206.47,480.80 203.74,485.88 201.01,490.95 204.80,498.17 203.63,492.36 206.35,487.28 209.08,482.21 211.82,477.15" fill="#fff" fill-opacity="0.3"/>
<polygon points="218.71,480.87 215.97,485.93 213.25,490.99 210.53,496.06 204.80,498.17 212.91,497.33 215.63,492.27 218.35,487.21 221.08,482.15" fill="#000" fill-opacity="0.3"/>
<polygon points="212.21,470.19 212.12,470.35 215.88,477.58 223.99,476.77 224.08,476.61" fill="#0000ff" />
<polygon points="212.21,470.19 212.12,470.35 215.88,477.58 214.73,471.76 214.82,471.60" fill="#fff" fill-opacity="0.3"/>
<polygon points="221.70,475.33 221.62,475.49 215.88,477.58 223.99,476.77 224.08,476.61" fill="#000" fill-opacity="0.3"/>
<polygon points="221.29,453.47 219.28,457.17 217.26,460.86 215.26,464.56 219.01,471.79 227.12,471.00 229.12,467.31 231.13,463.63 233.14,459.94" fill="#0000ff" />
<polygon points="221.29,453.47 219.28,457.17 217.26,460.86 215.26,464.56 219.01,471.79 217.87,465.98 219.87,462.28 221.88,458.59 223.90,454.90" fill="#fff" fill-opacity="0.3"/>
<polygon points="230.77,458.65 228.76,462.33 226.75,466.02 224.75,469.71 219.01,471.79 227.12,471.00 229.12,467.31 231.13,463.63 233.14,459.94" fill="#000" fill-opacity="0.3"/>
<polygon points="228.66,440.00 226.51,443.93 224.36,447.86 228.09,455.10 236.20,454.34 238.35,450.41 240.50,446.49" fill="#0000ff" />
<polygon points="228.66,440.00 226.51,443.93 224.36,447.86 228.09,455.10 226.96,449.28 229.11,445.35 231.27,441.43" fill="#fff" fill-opacity="0.3"/>
<polygon points="238.13,445.20 235.98,449.12 233.83,453.04 228.09,455.10 236.20,454.34 238.35,450.41 240.50,446.49" fill="#000" fill-opacity="0.3"/>
<polygon points="230.69,436.31 230.60,436.47 234.32,443.73 242.43,442.98 242.52,442.82" fill="#0000ff" />
<polygon points="230.69,436.31 230.60,436.47 234.32,443.73 233.20,437.90 233.29,437.74" fill="#fff" fill-opacity="0.3"/>
<polygon points="240.15,441.52 240.07,441.68 234.32,443.73 242.43,442.98 242.52,442.82" fill="#000" fill-opacity="0.3"/>
<polygon points="234.26,429.82 234.13,430.06 237.84,437.32 245.95,436.58 246.08,436.34" fill="#0000ff" />
<polygon points="234.26,429.82 234.13,430.06 237.84,437.32 236.73,431.50 236.86,431.26" fill="#fff" fill-opacity="0.3"/>
<polygon points="243.72,435.04 243.59,435.28 237.84,437.32 245.95,436.58 246.08,436.34" fill="#000" fill-opacity="0.3"/>
<polygon points="239.35,420.62 239.26,420.78 242.95,428.05 251.07,427.32 251.16,427.16" fill="#0000ff" />
<polygon points="239.35,420.62 239.26,420.78 242.95,428.05 241.86,422.22 241.95,422.06" fill="#fff" fill-opacity="0.3"/>
<polygon points="248.80,425.85 248.71,426.01 242.95,428.05 251.07,427.32 251.16,427.16" fill="#000" fill-opacity="0.3"/>
<polygon points="242.18,415.50 242.05,415.74 245.74,423.01 253.86,422.29 253.99,422.05" fill="#0000ff" />
<polygon points="242.18,415.50 242.05,415.74 245.74,423.01 244.65,417.18 244.78,416.94" fill="#fff" fill-opacity="0.3"/>
<polygon points="251.63,420.74 251.50,420.98 245.74,423.01 253.86,422.29 253.99,422.05" fill="#000" fill-opacity="0.3"/>
<polygon points="247.70,405.59 245.87,408.87 249.55,416.14 257.67,415.43 259.49,412.16" fill="#0000ff" />
<polygon points="247.70,405.59 245.87,408.87 249.55,416.14 248.47,410.31 250.29,407.04" fill="#fff" fill-opacity="0.3"/>
<polygon points="257.13,410.85 255.31,414.12 249.55,416.14 257.67,415.43 259.49,412.16" fill="#000" fill-opacity="0.3"/>
<polygon points="251.08,399.52 251.04,399.60 254.70,406.88 262.82,406.19 262.87,406.11" fill="#0000ff" />
<polygon points="251.08,399.52 251.04,399.60 254.70,406.88 253.63,401.05 253.68,400.97" fill="#fff" fill-opacity="0.3"/>
<polygon points="260.51,404.79 260.47,404.87 254.70,406.88 262.82,406.19 262.87,406.11" fill="#000" fill-opacity="0.3"/>
<polygon points="253.23,395.69 253.18,395.77 256.84,403.06 264.96,402.37 265.00,402.29" fill="#0000ff" />
<polygon points="253.23,395.69 253.18,395.77 256.84,403.06 255.77,397.22 255.82,397.14" fill="#fff" fill-opacity="0.3"/>
<polygon points="262.65,400.97 262.60,401.05 256.84,403.06 264.96,402.37 265.00,402.29" fill="#000" fill-opacity="0.3"/>
<polygon points="259.13,385.17 256.94,389.07 260.59,396.36 268.71,395.68 270.90,391.78" fill="#0000ff" />
<polygon points="259.13,385.17 256.94,389.07 260.59,396.36 259.53,390.53 261.72,386.62" fill="#fff" fill-opacity="0.3"/>
<polygon points="268.54,390.46 266.35,394.36 260.59,396.36 268.71,395.68 270.90,391.78" fill="#000" fill-opacity="0.3"/>
<polygon points="262.14,379.83 262.05,379.99 265.69,387.28 273.81,386.62 273.90,386.46" fill="#0000ff" />
<polygon points="262.14,379.83 262.05,379.99 265.69,387.28 264.64,381.45 264.72,381.29" fill="#fff" fill-opacity="0.3"/>
<polygon points="271.55,385.13 271.46,385.29 265.69,387.28 273.81,386.62 273.90,386.46" fill="#000" fill-opacity="0.3"/>
<polygon points="272.68,361.21 270.51,365.02 274.13,372.33 282.25,371.69 284.42,367.88" fill="#0000ff" />
<polygon points="272.68,361.21 270.51,365.02 274.13,372.33 273.09,366.49 275.26,362.67" fill="#fff" fill-opacity="0.3"/>
<polygon points="282.07,366.54 279.90,370.35 274.13,372.33 282.25,371.69 284.42,367.88" fill="#000" fill-opacity="0.3"/>
<polygon points="275.07,356.99 278.77,364.15 286.81,363.68" fill="#0000ff" />
<polygon points="275.07,356.99 278.77,364.15 277.66,358.46" fill="#fff" fill-opacity="0.3"/>
<polygon points="284.46,362.34 278.77,364.15 286.81,363.68" fill="#000" fill-opacity="0.3"/>
<polygon points="277.34,353.02 281.03,360.18 289.07,359.71" fill="#0000ff" />
<polygon points="277.34,353.02 281.03,360.18 279.92,354.49" fill="#fff" fill-opacity="0.3"/>
<polygon points="286.72,358.37 281.03,360.18 289.07,359.71" fill="#000" fill-opacity="0.3"/>
<polygon points="279.70,348.89 283.38,356.05 291.42,355.59" fill="#0000ff" />
<polygon points="279.70,348.89 283.38,356.05 282.28,350.37" fill="#fff" fill-opacity="0.3"/>
<polygon points="289.07,354.25 283.38,356.05 291.42,355.59" fill="#000" fill-opacity="0.3"/>
<polygon points="285.47,338.82 282.69,343.65 286.28,350.97 294.41,350.36 297.18,345.54" fill="#0000ff" />
<polygon points="285.47,338.82 282.69,343.65 286.28,350.97 285.27,345.13 288.04,340.29" fill="#fff" fill-opacity="0.3"/>
<polygon points="294.83,344.19 292.07,349.02 286.28,350.97 294.41,350.36 297.18,345.54" fill="#000" fill-opacity="0.3"/>
<polygon points="296.93,318.93 294.28,323.52 291.62,328.12 288.98,332.71 292.55,340.04 300.68,339.45 303.32,334.86 305.97,330.28 308.61,325.70" fill="#0000ff" />
<polygon points="296.93,318.93 294.28,323.52 291.62,328.12 288.98,332.71 292.55,340.04 291.55,334.19 294.20,329.60 296.85,325.01 299.50,320.42" fill="#fff" fill-opacity="0.3"/>
<polygon points="306.28,324.34 303.63,328.93 300.98,333.51 298.34,338.10 292.55,340.04 300.68,339.45 303.32,334.86 305.97,330.28 308.61,325.70" fill="#000" fill-opacity="0.3"/>
<polygon points="302.67,309.05 302.53,309.28 306.07,316.63 314.20,316.07 314.34,315.83" fill="#0000ff" />
<polygon points="302.67,309.05 302.53,309.28 306.07,316.63 305.10,310.78 305.24,310.54" fill="#fff" fill-opacity="0.3"/>
<polygon points="312.01,314.48 311.87,314.71 306.07,316.63 314.20,316.07 314.34,315.83" fill="#000" fill-opacity="0.3"/>
<polygon points="315.68,286.78 315.50,287.10 319.00,294.46 327.14,293.93 327.32,293.62" fill="#0000ff" />
<polygon points="315.68,286.78 315.50,287.10 319.00,294.46 318.06,288.60 318.24,288.29" fill="#fff" fill-opacity="0.3"/>
<polygon points="324.99,292.25 324.81,292.57 319.00,294.46 327.14,293.93 327.32,293.62" fill="#000" fill-opacity="0.3"/>
<polygon points="321.39,277.09 320.27,278.98 323.77,286.34 331.90,285.83 333.01,283.95" fill="#0000ff" />
<polygon points="321.39,277.09 320.27,278.98 323.77,286.34 322.83,280.49 323.94,278.60" fill="#fff" fill-opacity="0.3"/>
<polygon points="330.69,282.58 329.58,284.46 323.77,286.34 331.90,285.83 333.01,283.95" fill="#000" fill-opacity="0.3"/>
<polygon points="324.41,271.97 323.94,272.76 327.43,280.13 335.56,279.63 336.03,278.84" fill="#0000ff" />
<polygon points="324.41,271.97 323.94,272.76 327.43,280.13 326.50,274.27 326.96,273.48" fill="#fff" fill-opacity="0.3"/>
<polygon points="333.70,277.47 333.24,278.25 327.43,280.13 335.56,279.63 336.03,278.84" fill="#000" fill-opacity="0.3"/>
<polygon points="329.67,263.08 327.67,266.46 331.15,273.83 339.28,273.34 341.28,269.97" fill="#0000ff" />
<polygon points="329.67,263.08 327.67,266.46 331.15,273.83 330.22,267.98 332.23,264.60" fill="#fff" fill-opacity="0.3"/>
<polygon points="338.96,268.59 336.96,271.97 331.15,273.83 339.28,273.34 341.28,269.97" fill="#000" fill-opacity="0.3"/>
<polygon points="332.24,258.76 332.15,258.91 335.62,266.29 343.75,265.81 343.84,265.66" fill="#0000ff" />
<polygon points="332.24,258.76 332.15,258.91 335.62,266.29 334.70,260.43 334.79,260.27" fill="#fff" fill-opacity="0.3"/>
<polygon points="341.52,264.28 341.43,264.43 335.62,266.29 343.75,265.81 343.84,265.66" fill="#000" fill-opacity="0.3"/>
<polygon points="335.61,253.10 335.28,253.65 338.74,261.03 346.88,260.56 347.20,260.01" fill="#0000ff" />
<polygon points="335.61,253.10 335.28,253.65 338.74,261.03 337.83,255.17 338.16,254.62" fill="#fff" fill-opacity="0.3"/>
<polygon points="344.89,258.63 344.56,259.18 338.74,261.03 346.88,260.56 347.20,260.01" fill="#000" fill-opacity="0.3"/>
<polygon points="340.86,244.31 338.56,248.15 342.01,255.53 350.15,255.07 352.44,251.24" fill="#0000ff" />
<polygon points="340.86,244.31 338.56,248.15 342.01,255.53 341.11,249.67 343.41,245.83" fill="#fff" fill-opacity="0.3"/>
<polygon points="350.13,249.85 347.83,253.69 342.01,255.53 350.15,255.07 352.44,251.24" fill="#000" fill-opacity="0.3"/>
<polygon points="356.51,218.29 354.38,221.81 357.80,229.21 365.94,228.79 368.06,225.28" fill="#0000ff" />
<polygon points="356.51,218.29 354.38,221.81 357.80,229.21 356.92,223.35 359.05,219.83" fill="#fff" fill-opacity="0.3"/>
<polygon points="365.75,223.88 363.62,227.40 357.80,229.21 365.94,228.79 368.06,225.28" fill="#000" fill-opacity="0.3"/>
<polygon points="359.16,213.91 362.57,221.32 370.71,220.91" fill="#0000ff" />
<polygon points="359.16,213.91 362.57,221.32 361.70,215.45" fill="#fff" fill-opacity="0.3"/>
<polygon points="368.40,219.51 362.57,221.32 370.71,220.91" fill="#000" fill-opacity="0.3"/>
<polygon points="367.14,200.79 366.33,202.11 369.72,209.53 377.86,209.14 378.67,207.81" fill="#0000ff" />
<polygon points="367.14,200.79 366.33,202.11 369.72,209.53 368.87,203.66 369.68,202.33" fill="#fff" fill-opacity="0.3"/>
<polygon points="376.36,206.41 375.56,207.73 369.72,209.53 377.86,209.14 378.67,207.81" fill="#000" fill-opacity="0.3"/>
<polygon points="373.96,189.63 372.10,192.67 370.24,195.71 373.62,203.13 381.76,202.75 383.61,199.72 385.47,196.68" fill="#0000ff" />
<polygon points="373.96,189.63 372.10,192.67 370.24,195.71 373.62,203.13 372.77,197.26 374.63,194.22 376.49,191.18" fill="#fff" fill-opacity="0.3"/>
<polygon points="383.17,195.27 381.31,198.31 379.45,201.34 373.62,203.13 381.76,202.75 383.61,199.72 385.47,196.68" fill="#000" fill-opacity="0.3"/>
<polygon points="387.96,166.89 386.16,169.81 384.35,172.73 387.70,180.16 395.84,179.82 397.64,176.90 399.44,173.99" fill="#0000ff" />
<polygon points="387.96,166.89 386.16,169.81 384.35,172.73 387.70,180.16 386.88,174.29 388.68,171.37 390.49,168.45" fill="#fff" fill-opacity="0.3"/>
<polygon points="397.14,172.57 395.34,175.48 393.55,178.40 387.70,180.16 395.84,179.82 397.64,176.90 399.44,173.99" fill="#000" fill-opacity="0.3"/>
<polygon points="395.14,155.31 395.09,155.39 398.41,162.83 406.56,162.52 406.61,162.44" fill="#0000ff" />
<polygon points="395.14,155.31 395.09,155.39 398.41,162.83 397.61,156.96 397.66,156.88" fill="#fff" fill-opacity="0.3"/>
<polygon points="404.31,161.02 404.26,161.09 398.41,162.83 406.56,162.52 406.61,162.44" fill="#000" fill-opacity="0.3"/>
<polygon points="396.73,152.75 400.10,160.12 408.20,159.88" fill="#0000ff" />
<polygon points="396.73,152.75 400.10,160.12 399.26,154.32" fill="#fff" fill-opacity="0.3"/>
<polygon points="405.90,158.46 400.10,160.12 408.20,159.88" fill="#000" fill-opacity="0.3"/>
<polygon points="399.93,147.63 399.64,148.09 402.95,155.54 411.09,155.24 411.38,154.77" fill="#0000ff" />
<polygon points="399.93,147.63 399.64,148.09 402.95,155.54 402.16,149.67 402.45,149.20" fill="#fff" fill-opacity="0.3"/>
<polygon points="409.09,153.35 408.80,153.81 402.95,155.54 411.09,155.24 411.38,154.77" fill="#000" fill-opacity="0.3"/>
<polygon points="422.80,111.25 422.71,111.40 425.96,118.87 434.11,118.63 434.21,118.47" fill="#0000ff" />
<polygon points="422.80,111.25 422.71,111.40 425.96,118.87 425.21,112.99 425.31,112.84" fill="#fff" fill-opacity="0.3"/>
<polygon points="431.93,117.03 431.83,117.18 425.96,118.87 434.11,118.63 434.21,118.47" fill="#000" fill-opacity="0.3"/>
<polygon points="426.13,106.00 426.04,106.15 429.29,113.62 437.43,113.39 437.53,113.23" fill="#0000ff" />
<polygon points="426.13,106.00 426.04,106.15 429.29,113.62 428.54,107.74 428.64,107.59" fill="#fff" fill-opacity="0.3"/>
<polygon points="435.25,111.79 435.15,111.94 429.29,113.62 437.43,113.39 437.53,113.23" fill="#000" fill-opacity="0.3"/>
<polygon points="461.19,51.46 460.04,53.22 463.21,60.73 471.36,60.57 472.50,58.82" fill="#0000ff" />
<polygon points="461.19,51.46 460.04,53.22 463.21,60.73 462.53,54.84 463.68,53.07" fill="#fff" fill-opacity="0.3"/>
<polygon points="470.24,57.34 469.10,59.10 463.21,60.73 471.36,60.57 472.50,58.82" fill="#000" fill-opacity="0.3"/>
<polygon points="471.93,34.99 471.68,35.37 474.83,42.89 482.97,42.77 483.22,42.39" fill="#0000ff" />
<polygon points="471.93,34.99 471.68,35.37 474.83,42.89 474.16,37.00 474.41,36.62" fill="#fff" fill-opacity="0.3"/>
<polygon points="480.97,40.91 480.72,41.29 474.83,42.89 482.97,42.77 483.22,42.39" fill="#000" fill-opacity="0.3"/>
<polygon points="492.97,3.08 491.81,4.83 494.91,12.37 503.06,12.30 504.22,10.55" fill="#0000ff" />
<polygon points="492.97,3.08 491.81,4.83 494.91,12.37 494.28,6.48 495.44,4.72" fill="#fff" fill-opacity="0.3"/>
<polygon points="501.97,9.05 500.81,10.80 494.91,12.37 503.06,12.30 504.22,10.55" fill="#000" fill-opacity="0.3"/>
<polygon points="497.12,-3.16 496.92,-2.86 500.01,4.68 508.16,4.62 508.36,4.32" fill="#0000ff" />
<polygon points="497.12,-3.16 496.92,-2.86 500.01,4.68 499.39,-1.21 499.59,-1.52" fill="#fff" fill-opacity="0.3"/>
<polygon points="506.11,2.82 505.91,3.13 500.01,4.68 508.16,4.62 508.36,4.32" fill="#000" fill-opacity="0.3"/>
<polygon points="126.86,534.90 128.31,532.13 129.76,529.35 141.73,535.60 140.28,538.37 138.84,541.14" fill="#696969" />
<polygon points="126.86,534.90 128.31,532.13 129.76,529.35 132.39,530.73 130.95,533.50 129.50,536.28" fill="#fff" fill-opacity="0.3"/>
<polygon points="136.44,539.89 137.89,537.12 139.33,534.35 141.73,535.60 140.28,538.37 138.84,541.14" fill="#000" fill-opacity="0.3"/>
<polygon points="137.89,513.85 140.24,509.39 142.59,504.94 144.94,500.49 156.87,506.80 154.52,511.24 152.18,515.69 149.84,520.13" fill="#c0c0c0" />
<polygon points="137.89,513.85 140.24,509.39 142.59,504.94 144.94,500.49 147.56,501.88 145.21,506.33 142.86,510.78 140.52,515.23" fill="#fff" fill-opacity="0.3"/>
<polygon points="147.45,518.88 149.79,514.43 152.14,509.98 154.48,505.54 156.87,506.80 154.52,511.24 152.18,515.69 149.84,520.13" fill="#000" fill-opacity="0.3"/>
<polygon points="144.94,500.49 146.45,497.64 158.38,503.96 156.87,506.80" fill="#ff1493" />
<polygon points="144.94,500.49 146.45,497.64 149.07,499.03 147.56,501.88" fill="#fff" fill-opacity="0.3"/>
<polygon points="154.48,505.54 155.99,502.69 158.38,503.96 156.87,506.80" fill="#000" fill-opacity="0.3"/>
<polygon points="146.45,497.64 148.99,492.84 160.92,499.17 158.38,503.96" fill="#c0c0c0" />
<polygon points="146.45,497.64 148.99,492.84 151.62,494.23 149.07,499.03" fill="#fff" fill-opacity="0.3"/>
<polygon points="155.99,502.69 158.53,497.90 160.92,499.17 158.38,503.96" fill="#000" fill-opacity="0.3"/>
<polygon points="148.99,492.84 150.97,489.12 152.95,485.41 154.93,481.70 166.84,488.05 164.86,491.76 162.89,495.46 160.92,499.17" fill="#00ffff" />
<polygon points="148.99,492.84 150.97,489.12 152.95,485.41 154.93,481.70 157.55,483.10 155.57,486.81 153.59,490.52 151.62,494.23" fill="#fff" fill-opacity="0.3"/>
<polygon points="158.53,497.90 160.50,494.19 162.48,490.49 164.45,486.78 166.84,488.05 164.86,491.76 162.89,495.46 160.92,499.17" fill="#000" fill-opacity="0.3"/>
<polygon points="265.02,284.27 267.43,280.13 269.85,276.00 272.26,271.86 283.92,278.68 281.50,282.81 279.09,286.94 276.69,291.06" fill="#c0c0c0" />
<polygon points="265.02,284.27 267.43,280.13 269.85,276.00 272.26,271.86 274.83,273.36 272.41,277.50 270.00,281.63 267.59,285.77" fill="#fff" fill-opacity="0.3"/>
<polygon points="274.35,289.71 276.76,285.57 279.17,281.45 281.59,277.32 283.92,278.68 281.50,282.81 279.09,286.94 276.69,291.06" fill="#000" fill-opacity="0.3"/>
<polygon points="303.00,219.94 306.08,214.80 311.86,218.28 308.79,223.41" fill="#ff8c00" />
<polygon points="303.00,219.94 306.08,214.80 307.35,215.57 304.27,220.70" fill="#fff" fill-opacity="0.3"/>
<polygon points="307.63,222.71 310.71,217.58 311.86,218.28 308.79,223.41" fill="#000" fill-opacity="0.3"/>
<polygon points="308.79,223.41 311.86,218.28 317.65,221.75 314.58,226.87" fill="#32cd32" />
<polygon points="308.79,223.41 311.86,218.28 313.14,219.04 310.06,224.17" fill="#fff" fill-opacity="0.3"/>
<polygon points="313.42,226.18 316.50,221.05 317.65,221.75 314.58,226.87" fill="#000" fill-opacity="0.3"/>
<polygon points="351.05,141.02 354.11,136.09 365.58,143.21 362.53,148.13" fill="#696969" />
<polygon points="351.05,141.02 354.11,136.09 356.63,137.66 353.57,142.59" fill="#fff" fill-opacity="0.3"/>
<polygon points="360.23,146.71 363.28,141.78 365.58,143.21 362.53,148.13" fill="#000" fill-opacity="0.3"/>
<polygon points="362.97,121.86 364.67,119.12 366.38,116.39 377.83,123.55 376.12,126.28 374.42,129.01" fill="#00ffff" />
<polygon points="362.97,121.86 364.67,119.12 366.38,116.39 368.90,117.96 367.19,120.70 365.49,123.43" fill="#fff" fill-opacity="0.3"/>
<polygon points="372.13,127.58 373.83,124.85 375.54,122.12 377.83,123.55 376.12,126.28 374.42,129.01" fill="#000" fill-opacity="0.3"/>
<polygon points="366.68,115.92 368.36,113.23 370.05,110.53 375.77,114.12 374.08,116.81 372.40,119.50" fill="#00ffff" />
<polygon points="366.68,115.92 368.36,113.23 370.05,110.53 371.31,111.32 369.62,114.02 367.94,116.71" fill="#fff" fill-opacity="0.3"/>
<polygon points="371.26,118.79 372.94,116.09 374.63,113.40 375.77,114.12 374.08,116.81 372.40,119.50" fill="#000" fill-opacity="0.3"/>
<polygon points="372.40,119.50 374.08,116.81 375.77,114.12 381.49,117.71 379.80,120.40 378.12,123.08" fill="#bdb76b" />
<polygon points="372.40,119.50 374.08,116.81 375.77,114.12 377.03,114.91 375.34,117.60 373.66,120.29" fill="#fff" fill-opacity="0.3"/>
<polygon points="376.98,122.37 378.66,119.68 380.35,116.99 381.49,117.71 379.80,120.40 378.12,123.08" fill="#000" fill-opacity="0.3"/>
<polygon points="370.35,110.07 372.53,106.59 374.71,103.12 380.42,106.72 378.24,110.19 376.06,113.65" fill="#00ffff" />
<polygon points="370.35,110.07 372.53,106.59 374.71,103.12 375.97,103.92 373.78,107.38 371.60,110.86" fill="#fff" fill-opacity="0.3"/>
<polygon points="374.92,112.94 377.10,109.47 379.28,106.00 380.42,106.72 378.24,110.19 376.06,113.65" fill="#000" fill-opacity="0.3"/>
<polygon points="376.06,113.65 378.24,110.19 380.42,106.72 386.13,110.32 383.96,113.78 381.78,117.24" fill="#bdb76b" />
<polygon points="376.06,113.65 378.24,110.19 380.42,106.72 381.68,107.51 379.50,110.98 377.32,114.44" fill="#fff" fill-opacity="0.3"/>
<polygon points="380.64,116.52 382.81,113.06 384.99,109.60 386.13,110.32 383.96,113.78 381.78,117.24" fill="#000" fill-opacity="0.3"/>
<polygon points="375.00,102.66 376.89,99.66 378.79,96.66 390.20,103.86 388.31,106.85 386.43,109.85" fill="#c0c0c0" />
<polygon points="375.00,102.66 376.89,99.66 378.79,96.66 381.30,98.24 379.41,101.24 377.52,104.24" fill="#fff" fill-opacity="0.3"/>
<polygon points="384.14,108.41 386.03,105.41 387.92,102.42 390.20,103.86 388.31,106.85 386.43,109.85" fill="#000" fill-opacity="0.3"/>
<polygon points="379.08,96.19 381.34,92.61 392.76,99.82 390.50,103.40" fill="#6b8e23" />
<polygon points="379.08,96.19 381.34,92.61 383.86,94.19 381.59,97.77" fill="#fff" fill-opacity="0.3"/>
<polygon points="388.21,101.95 390.47,98.38 392.76,99.82 390.50,103.40" fill="#000" fill-opacity="0.3"/>
<polygon points="388.15,81.87 390.42,78.29 392.70,74.72 404.08,81.97 401.81,85.54 399.55,89.11" fill="#ff1493" />
<polygon points="388.15,81.87 390.42,78.29 392.70,74.72 395.20,76.31 392.93,79.89 390.66,83.46" fill="#fff" fill-opacity="0.3"/>
<polygon points="397.27,87.66 399.54,84.09 401.81,80.52 404.08,81.97 401.81,85.54 399.55,89.11" fill="#000" fill-opacity="0.3"/>
<polygon points="392.95,74.33 395.59,70.18 398.24,66.04 400.89,61.89 403.55,57.75 406.20,53.61 417.56,60.91 414.91,65.04 412.26,69.18 409.61,73.31 406.97,77.45 404.33,81.58" fill="#4682b4" />
<polygon points="392.95,74.33 395.59,70.18 398.24,66.04 400.89,61.89 403.55,57.75 406.20,53.61 408.70,55.22 406.05,59.36 403.39,63.50 400.74,67.64 398.09,71.78 395.45,75.93" fill="#fff" fill-opacity="0.3"/>
<polygon points="402.05,80.13 404.69,75.99 407.34,71.85 409.99,67.72 412.64,63.59 415.29,59.45 417.56,60.91 414.91,65.04 412.26,69.18 409.61,73.31 406.97,77.45 404.33,81.58" fill="#000" fill-opacity="0.3"/>
<polygon points="409.50,48.50 411.14,45.95 422.49,53.26 420.84,55.81" fill="#ff1493" />
<polygon points="409.50,48.50 411.14,45.95 413.64,47.56 411.99,50.11" fill="#fff" fill-opacity="0.3"/>
<polygon points="418.57,54.35 420.22,51.80 422.49,53.26 420.84,55.81" fill="#000" fill-opacity="0.3"/>
<polygon points="411.34,45.64 413.77,41.88 416.19,38.13 427.52,45.47 425.10,49.21 422.69,52.95" fill="#ff1493" />
<polygon points="411.34,45.64 413.77,41.88 416.19,38.13 418.68,39.74 416.26,43.49 413.84,47.25" fill="#fff" fill-opacity="0.3"/>
<polygon points="420.42,51.49 422.84,47.74 425.26,44.00 427.52,45.47 425.10,49.21 422.69,52.95" fill="#000" fill-opacity="0.3"/>
<polygon points="428.89,18.59 431.26,14.96 442.56,22.35 440.20,25.97" fill="#ff1493" />
<polygon points="428.89,18.59 431.26,14.96 433.74,16.59 431.38,20.21" fill="#fff" fill-opacity="0.3"/>
<polygon points="437.94,24.49 440.30,20.87 442.56,22.35 440.20,25.97" fill="#000" fill-opacity="0.3"/>
<polygon points="436.15,7.49 438.58,3.79 449.86,11.20 447.44,14.89" fill="#ff1493" />
<polygon points="436.15,7.49 438.58,3.79 441.06,5.42 438.64,9.12" fill="#fff" fill-opacity="0.3"/>
<polygon points="445.18,13.41 447.61,9.72 449.86,11.20 447.44,14.89" fill="#000" fill-opacity="0.3"/>
<polygon points="444.40,-5.06 447.44,-9.67 450.49,-14.28 453.54,-18.89 456.60,-23.50 459.66,-28.10 470.90,-20.62 467.85,-16.03 464.80,-11.43 461.75,-6.83 458.71,-2.23 455.67,2.37" fill="#a52a2a" />
<polygon points="444.40,-5.06 447.44,-9.67 450.49,-14.28 453.54,-18.89 456.60,-23.50 459.66,-28.10 462.13,-26.45 459.07,-21.85 456.02,-17.25 452.97,-12.64 449.92,-8.04 446.88,-3.42" fill="#fff" fill-opacity="0.3"/>
<polygon points="453.42,0.88 456.46,-3.72 459.50,-8.32 462.55,-12.92 465.60,-17.52 468.65,-22.11 470.90,-20.62 467.85,-16.03 464.80,-11.43 461.75,-6.83 458.71,-2.23 455.67,2.37" fill="#000" fill-opacity="0.3"/>
<polygon points="155.73,616.46 158.18,611.64 160.64,606.83 163.10,602.02 165.57,597.21 168.04,592.40 170.51,587.60 172.99,582.79 184.98,588.99 182.51,593.78 180.04,598.58 177.58,603.37 175.12,608.17 172.66,612.97 170.21,617.78 167.76,622.58" fill="#6b8e23" />
<polygon points="155.73,616.46 158.18,611.64 160.64,606.83 163.10,602.02 165.57,597.21 168.04,592.40 170.51,587.60 172.99,582.79 175.63,584.16 173.15,588.96 170.68,593.76 168.21,598.57 165.74,603.37 163.28,608.18 160.83,612.99 158.37,617.81" fill="#fff" fill-opacity="0.3"/>
<polygon points="165.35,621.36 167.80,616.55 170.26,611.75 172.71,606.94 175.17,602.14 177.64,597.34 180.11,592.55 182.59,587.75 184.98,588.99 182.51,593.78 180.04,598.58 177.58,603.37 175.12,608.17 172.66,612.97 170.21,617.78 167.76,622.58" fill="#000" fill-opacity="0.3"/>
<polygon points="173.16,582.47 174.41,580.04 186.40,586.24 185.15,588.67" fill="#f0e68c" />
<polygon points="173.16,582.47 174.41,580.04 177.05,581.40 175.80,583.83" fill="#fff" fill-opacity="0.3"/>
<polygon points="182.75,587.43 184.01,585.00 186.40,586.24 185.15,588.67" fill="#000" fill-opacity="0.3"/>
<polygon points="174.41,580.04 176.64,575.75 178.86,571.46 190.84,577.68 188.62,581.96 186.40,586.24" fill="#6b8e23" />
<polygon points="174.41,580.04 176.64,575.75 178.86,571.46 181.50,572.83 179.27,577.12 177.05,581.40" fill="#fff" fill-opacity="0.3"/>
<polygon points="184.01,585.00 186.22,580.72 188.45,576.44 190.84,577.68 188.62,581.96 186.40,586.24" fill="#000" fill-opacity="0.3"/>
<polygon points="178.86,571.46 181.01,567.33 192.98,573.57 190.84,577.68" fill="#696969" />
<polygon points="178.86,571.46 181.01,567.33 183.64,568.71 181.50,572.83" fill="#fff" fill-opacity="0.3"/>
<polygon points="188.45,576.44 190.59,572.32 192.98,573.57 190.84,577.68" fill="#000" fill-opacity="0.3"/>
<polygon points="189.91,550.28 192.67,545.04 204.62,551.32 201.87,556.55" fill="#c0c0c0" />
<polygon points="189.91,550.28 192.67,545.04 195.30,546.42 192.54,551.66" fill="#fff" fill-opacity="0.3"/>
<polygon points="199.48,555.30 202.23,550.06 204.62,551.32 201.87,556.55" fill="#000" fill-opacity="0.3"/>
<polygon points="210.89,510.64 213.56,505.65 219.51,508.83 216.85,513.81" fill="#ff8c00" />
<polygon points="210.89,510.64 213.56,505.65 214.87,506.35 212.20,511.33" fill="#fff" fill-opacity="0.3"/>
<polygon points="215.66,513.18 218.32,508.20 219.51,508.83 216.85,513.81" fill="#000" fill-opacity="0.3"/>
<polygon points="216.85,513.81 219.51,508.83 225.46,512.02 222.80,516.99" fill="#32cd32" />
<polygon points="216.85,513.81 219.51,508.83 220.82,509.54 218.16,514.51" fill="#fff" fill-opacity="0.3"/>
<polygon points="221.61,516.36 224.27,511.38 225.46,512.02 222.80,516.99" fill="#000" fill-opacity="0.3"/>
<polygon points="213.56,505.65 215.85,501.36 218.16,497.07 220.46,492.78 222.77,488.49 225.08,484.21 236.96,490.63 234.65,494.90 232.35,499.18 230.05,503.46 227.75,507.74 225.46,512.02" fill="#32cd32" />
<polygon points="213.56,505.65 215.85,501.36 218.16,497.07 220.46,492.78 222.77,488.49 225.08,484.21 227.70,485.62 225.39,489.90 223.08,494.19 220.77,498.47 218.47,502.76 216.17,507.05" fill="#fff" fill-opacity="0.3"/>
<polygon points="223.08,510.75 225.37,506.46 227.67,502.18 229.97,497.90 232.28,493.62 234.59,489.34 236.96,490.63 234.65,494.90 232.35,499.18 230.05,503.46 227.75,507.74 225.46,512.02" fill="#000" fill-opacity="0.3"/>
<polygon points="225.08,484.21 227.77,479.24 239.64,485.67 236.96,490.63" fill="#483d8b" />
<polygon points="225.08,484.21 227.77,479.24 230.38,480.65 227.70,485.62" fill="#fff" fill-opacity="0.3"/>
<polygon points="234.59,489.34 237.27,484.38 239.64,485.67 236.96,490.63" fill="#000" fill-opacity="0.3"/>
<polygon points="227.77,479.24 230.14,474.87 232.51,470.50 234.89,466.14 237.26,461.78 249.12,468.24 246.74,472.60 244.37,476.95 242.01,481.31 239.64,485.67" fill="#483d8b" />
<polygon points="227.77,479.24 230.14,474.87 232.51,470.50 234.89,466.14 237.26,461.78 239.87,463.20 237.49,467.56 235.12,471.92 232.75,476.29 230.38,480.65" fill="#fff" fill-opacity="0.3"/>
<polygon points="237.27,484.38 239.63,480.02 242.00,475.66 244.37,471.30 246.75,466.95 249.12,468.24 246.74,472.60 244.37,476.95 242.01,481.31 239.64,485.67" fill="#000" fill-opacity="0.3"/>
<polygon points="237.26,461.78 239.80,457.14 242.34,452.50 244.88,447.86 256.72,454.36 254.18,458.98 251.64,463.61 249.12,468.24" fill="#483d8b" />
<polygon points="237.26,461.78 239.80,457.14 242.34,452.50 244.88,447.86 247.49,449.29 244.94,453.92 242.41,458.56 239.87,463.20" fill="#fff" fill-opacity="0.3"/>
<polygon points="246.75,466.95 249.28,462.32 251.81,457.69 254.35,453.06 256.72,454.36 254.18,458.98 251.64,463.61 249.12,468.24" fill="#000" fill-opacity="0.3"/>
<polygon points="259.65,421.13 261.62,417.58 263.60,414.04 275.39,420.61 273.42,424.15 271.45,427.68" fill="#0000ff" />
<polygon points="259.65,421.13 261.62,417.58 263.60,414.04 266.19,415.48 264.22,419.03 262.25,422.57" fill="#fff" fill-opacity="0.3"/>
<polygon points="269.09,426.37 271.06,422.83 273.03,419.30 275.39,420.61 273.42,424.15 271.45,427.68" fill="#000" fill-opacity="0.3"/>
<polygon points="264.48,412.44 266.26,409.26 278.05,415.84 276.27,419.02" fill="#ff8c00" />
<polygon points="264.48,412.44 266.26,409.26 268.85,410.71 267.08,413.89" fill="#fff" fill-opacity="0.3"/>
<polygon points="273.92,417.71 275.69,414.53 278.05,415.84 276.27,419.02" fill="#000" fill-opacity="0.3"/>
<polygon points="266.26,409.26 268.44,405.36 280.22,411.95 278.05,415.84" fill="#0000ff" />
<polygon points="266.26,409.26 268.44,405.36 271.03,406.81 268.85,410.71" fill="#fff" fill-opacity="0.3"/>
<polygon points="275.69,414.53 277.87,410.63 280.22,411.95 278.05,415.84" fill="#000" fill-opacity="0.3"/>
<polygon points="270.09,402.42 272.52,398.08 274.95,393.75 286.72,400.37 284.29,404.69 281.87,409.02" fill="#0000ff" />
<polygon points="270.09,402.42 272.52,398.08 274.95,393.75 277.54,395.21 275.11,399.54 272.68,403.87" fill="#fff" fill-opacity="0.3"/>
<polygon points="279.51,407.70 281.94,403.37 284.37,399.05 286.72,400.37 284.29,404.69 281.87,409.02" fill="#000" fill-opacity="0.3"/>
<polygon points="274.95,393.75 277.91,388.51 289.67,395.14 286.72,400.37" fill="#0000ff" />
<polygon points="274.95,393.75 277.91,388.51 280.49,389.97 277.54,395.21" fill="#fff" fill-opacity="0.3"/>
<polygon points="284.37,399.05 287.32,393.81 289.67,395.14 286.72,400.37" fill="#000" fill-opacity="0.3"/>
<polygon points="283.56,378.51 285.92,374.34 288.28,370.18 300.02,376.85 297.66,381.00 295.31,385.16" fill="#0000ff" />
<polygon points="283.56,378.51 285.92,374.34 288.28,370.18 290.86,371.65 288.50,375.81 286.14,379.97" fill="#fff" fill-opacity="0.3"/>
<polygon points="292.96,383.83 295.31,379.67 297.67,375.52 300.02,376.85 297.66,381.00 295.31,385.16" fill="#000" fill-opacity="0.3"/>
<polygon points="288.28,370.18 290.63,366.06 296.49,369.40 294.15,373.52" fill="#c0c0c0" />
<polygon points="288.28,370.18 290.63,366.06 291.92,366.80 289.57,370.91" fill="#fff" fill-opacity="0.3"/>
<polygon points="292.98,372.85 295.32,368.73 296.49,369.40 294.15,373.52" fill="#000" fill-opacity="0.3"/>
<polygon points="294.15,373.52 296.49,369.40 302.36,372.74 300.02,376.85" fill="#ff8c00" />
<polygon points="294.15,373.52 296.49,369.40 297.78,370.14 295.44,374.25" fill="#fff" fill-opacity="0.3"/>
<polygon points="298.85,376.18 301.18,372.07 302.36,372.74 300.02,376.85" fill="#000" fill-opacity="0.3"/>
<polygon points="290.63,366.06 292.88,362.10 304.61,368.79 302.36,372.74" fill="#ff8c00" />
<polygon points="290.63,366.06 292.88,362.10 295.46,363.57 293.21,367.53" fill="#fff" fill-opacity="0.3"/>
<polygon points="300.01,371.40 302.26,367.45 304.61,368.79 302.36,372.74" fill="#000" fill-opacity="0.3"/>
<polygon points="295.73,357.11 298.52,352.25 301.31,347.38 313.01,354.10 310.23,358.96 307.45,363.81" fill="#4682b4" />
<polygon points="295.73,357.11 298.52,352.25 301.31,347.38 303.88,348.86 301.09,353.72 298.31,358.59" fill="#fff" fill-opacity="0.3"/>
<polygon points="305.11,362.47 307.89,357.61 310.67,352.76 313.01,354.10 310.23,358.96 307.45,363.81" fill="#000" fill-opacity="0.3"/>
<polygon points="302.21,345.80 304.78,341.34 307.35,336.87 309.93,332.41 312.51,327.95 324.19,334.72 321.62,339.17 319.05,343.62 316.48,348.07 313.92,352.53" fill="#483d8b" />
<polygon points="302.21,345.80 304.78,341.34 307.35,336.87 309.93,332.41 312.51,327.95 315.08,329.44 312.50,333.90 309.93,338.36 307.36,342.82 304.79,347.28" fill="#fff" fill-opacity="0.3"/>
<polygon points="311.58,351.18 314.14,346.72 316.71,342.27 319.28,337.82 321.86,333.36 324.19,334.72 321.62,339.17 319.05,343.62 316.48,348.07 313.92,352.53" fill="#000" fill-opacity="0.3"/>
<polygon points="333.42,292.13 335.15,289.18 336.89,286.23 348.52,293.09 346.79,296.03 345.06,298.97" fill="#c0c0c0" />
<polygon points="333.42,292.13 335.15,289.18 336.89,286.23 339.45,287.74 337.71,290.69 335.98,293.63" fill="#fff" fill-opacity="0.3"/>
<polygon points="342.73,297.60 344.46,294.66 346.19,291.72 348.52,293.09 346.79,296.03 345.06,298.97" fill="#000" fill-opacity="0.3"/>
<polygon points="336.89,286.23 339.86,281.21 351.48,288.08 348.52,293.09" fill="#696969" />
<polygon points="336.89,286.23 339.86,281.21 342.41,282.72 339.45,287.74" fill="#fff" fill-opacity="0.3"/>
<polygon points="346.19,291.72 349.15,286.70 351.48,288.08 348.52,293.09" fill="#000" fill-opacity="0.3"/>
<polygon points="339.86,281.21 342.66,276.46 345.48,271.72 357.09,278.61 354.28,283.34 351.48,288.08" fill="#00ffff" />
<polygon points="339.86,281.21 342.66,276.46 345.48,271.72 348.03,273.23 345.22,277.98 342.41,282.72" fill="#fff" fill-opacity="0.3"/>
<polygon points="349.15,286.70 351.96,281.97 354.77,277.23 357.09,278.61 354.28,283.34 351.48,288.08" fill="#000" fill-opacity="0.3"/>
<polygon points="345.48,271.72 346.83,269.44 358.43,276.34 357.09,278.61" fill="#696969" />
<polygon points="345.48,271.72 346.83,269.44 349.38,270.96 348.03,273.23" fill="#fff" fill-opacity="0.3"/>
<polygon points="354.77,277.23 356.11,274.96 358.43,276.34 357.09,278.61" fill="#000" fill-opacity="0.3"/>
<polygon points="379.29,215.45 380.97,212.69 382.65,209.92 394.18,216.95 392.50,219.71 390.82,222.47" fill="#0000ff" />
<polygon points="379.29,215.45 380.97,212.69 382.65,209.92 385.19,211.47 383.51,214.23 381.82,216.99" fill="#fff" fill-opacity="0.3"/>
<polygon points="388.51,221.06 390.19,218.30 391.87,215.54 394.18,216.95 392.50,219.71 390.82,222.47" fill="#000" fill-opacity="0.3"/>
<polygon points="383.03,209.30 385.15,205.82 387.28,202.35 389.41,198.88 400.92,205.93 398.79,209.39 396.68,212.86 394.56,216.33" fill="#ff1493" />
<polygon points="383.03,209.30 385.15,205.82 387.28,202.35 389.41,198.88 391.94,200.43 389.81,203.90 387.69,207.37 385.57,210.85" fill="#fff" fill-opacity="0.3"/>
<polygon points="392.25,214.92 394.37,211.45 396.49,207.99 398.61,204.52 400.92,205.93 398.79,209.39 396.68,212.86 394.56,216.33" fill="#000" fill-opacity="0.3"/>
<polygon points="397.04,186.45 400.15,181.40 403.27,176.36 414.75,183.46 411.64,188.49 408.54,193.53" fill="#0000ff" />
<polygon points="397.04,186.45 400.15,181.40 403.27,176.36 405.79,177.92 402.68,182.96 399.57,188.00" fill="#fff" fill-opacity="0.3"/>
<polygon points="406.24,192.11 409.34,187.08 412.45,182.04 414.75,183.46 411.64,188.49 408.54,193.53" fill="#000" fill-opacity="0.3"/>
<polygon points="408.36,168.15 410.09,165.36 421.56,172.49 419.83,175.27" fill="#ff1493" />
<polygon points="408.36,168.15 410.09,165.36 412.61,166.93 410.88,169.71" fill="#fff" fill-opacity="0.3"/>
<polygon points="417.53,173.84 419.26,171.06 421.56,172.49 419.83,175.27" fill="#000" fill-opacity="0.3"/>
<polygon points="412.64,161.26 415.20,157.16 426.65,164.30 424.10,168.39" fill="#c0c0c0" />
<polygon points="412.64,161.26 415.20,157.16 417.72,158.73 415.16,162.83" fill="#fff" fill-opacity="0.3"/>
<polygon points="421.81,166.97 424.36,162.87 426.65,164.30 424.10,168.39" fill="#000" fill-opacity="0.3"/>
<polygon points="435.42,124.96 437.71,121.34 449.12,128.57 446.83,132.18" fill="#ff1493" />
<polygon points="435.42,124.96 437.71,121.34 440.22,122.93 437.93,126.55" fill="#fff" fill-opacity="0.3"/>
<polygon points="444.55,130.74 446.84,127.12 449.12,128.57 446.83,132.18" fill="#000" fill-opacity="0.3"/>
<polygon points="439.23,118.96 440.74,116.57 452.14,123.81 450.63,126.19" fill="#ff1493" />
<polygon points="439.23,118.96 440.74,116.57 443.25,118.16 441.74,120.55" fill="#fff" fill-opacity="0.3"/>
<polygon points="448.35,124.74 449.86,122.36 452.14,123.81 450.63,126.19" fill="#000" fill-opacity="0.3"/>
<polygon points="472.70,66.77 474.81,63.52 476.92,60.27 488.24,67.64 486.13,70.88 484.03,74.12" fill="#ff1493" />
<polygon points="472.70,66.77 474.81,63.52 476.92,60.27 479.41,61.89 477.30,65.14 475.19,68.39" fill="#fff" fill-opacity="0.3"/>
<polygon points="481.76,72.65 483.87,69.41 485.98,66.16 488.24,67.64 486.13,70.88 484.03,74.12" fill="#000" fill-opacity="0.3"/>
<polygon points="484.14,49.20 486.39,45.77 497.68,53.16 495.44,56.59" fill="#ff1493" />
<polygon points="484.14,49.20 486.39,45.77 488.87,47.39 486.63,50.83" fill="#fff" fill-opacity="0.3"/>
<polygon points="493.18,55.11 495.43,51.68 497.68,53.16 495.44,56.59" fill="#000" fill-opacity="0.3"/>
<polygon points="514.63,3.02 517.06,-0.62 519.49,-4.26 530.71,3.24 528.29,6.87 525.86,10.51" fill="#ff1493" />
<polygon points="514.63,3.02 517.06,-0.62 519.49,-4.26 521.96,-2.61 519.53,1.03 517.10,4.66" fill="#fff" fill-opacity="0.3"/>
<polygon points="523.62,9.01 526.04,5.37 528.47,1.74 530.71,3.24 528.29,6.87 525.86,10.51" fill="#000" fill-opacity="0.3"/>
<line x1="336.18" y1="44.23" x2="377.01" y2="69.65" stroke="#ff0000" stroke-width="1"/>
<text transform="translate(333.65,44.50) scale(0.96,1)" text-anchor="end" font-family="Liberation Sans, sans-serif" font-size="10.6" fill="#ff0000">XOO_3671</text>
<line x1="326.21" y1="59.95" x2="366.98" y2="85.49" stroke="#ff0000" stroke-width="1"/>
<text transform="translate(324.15,60.00) scale(0.96,1)" text-anchor="end" font-family="Liberation Sans, sans-serif" font-size="10.6" fill="#ff0000">XOO_3668</text>
<line x1="316.39" y1="75.55" x2="363.03" y2="91.74" stroke="#ff0000" stroke-width="1"/>
<text transform="translate(314.15,75.75) scale(0.96,1)" text-anchor="end" font-family="Liberation Sans, sans-serif" font-size="10.6" fill="#ff0000">XOO_3667</text>
<line x1="306.47" y1="91.41" x2="359.00" y2="98.15" stroke="#ff0000" stroke-width="1"/>
<text transform="translate(304.65,91.75) scale(0.96,1)" text-anchor="end" font-family="Liberation Sans, sans-serif" font-size="10.6" fill="#ff0000">XOO_3666</text>
<line x1="296.40" y1="107.62" x2="355.12" y2="104.33" stroke="#ff0000" stroke-width="1"/>
<text transform="translate(294.65,107.50) scale(0.96,1)" text-anchor="end" font-family="Liberation Sans, sans-serif" font-size="10.6" fill="#ff0000">XOO_3665</text>
<line x1="286.82" y1="123.14" x2="351.25" y2="110.51" stroke="#ff0000" stroke-width="1"/>
<text transform="translate(284.15,123.25) scale(0.96,1)" text-anchor="end" font-family="Liberation Sans, sans-serif" font-size="10.6" fill="#ff0000">XOO_3664</text>
<line x1="277.52" y1="138.30" x2="339.00" y2="130.19" stroke="#ff0000" stroke-width="1"/>
<text transform="translate(275.40,138.75) scale(0.96,1)" text-anchor="end" font-family="Liberation Sans, sans-serif" font-size="10.6" fill="#ff0000">XOO_3660</text>
<line x1="267.74" y1="154.36" x2="326.29" y2="150.78" stroke="#ff0000" stroke-width="1"/>
<text transform="translate(265.40,154.50) scale(0.96,1)" text-anchor="end" font-family="Liberation Sans, sans-serif" font-size="10.6" fill="#ff0000">XOO_3658</text>
<line x1="258.83" y1="169.09" x2="309.96" y2="177.50" stroke="#ff0000" stroke-width="1"/>
<text transform="translate(257.90,169.50) scale(0.96,1)" text-anchor="end" font-family="Liberation Sans, sans-serif" font-size="10.6" fill="#ff0000">XOO_3655</text>
<line x1="249.24" y1="185.05" x2="296.35" y2="200.03" stroke="#ff0000" stroke-width="1"/>
<text transform="translate(247.40,185.50) scale(0.96,1)" text-anchor="end" font-family="Liberation Sans, sans-serif" font-size="10.6" fill="#ff0000">XOO_3652</text>
<line x1="239.55" y1="201.27" x2="290.93" y2="209.05" stroke="#ff0000" stroke-width="1"/>
<text transform="translate(236.65,201.75) scale(0.96,1)" text-anchor="end" font-family="Liberation Sans, sans-serif" font-size="10.6" fill="#ff0000">XOO_3651</text>
<line x1="220.37" y1="233.73" x2="260.55" y2="260.30" stroke="#ff0000" stroke-width="1"/>
<text transform="translate(218.40,234.25) scale(0.96,1)" text-anchor="end" font-family="Liberation Sans, sans-serif" font-size="10.6" fill="#ff0000">XOO_3643</text>
<line x1="212.01" y1="248.03" x2="255.14" y2="269.55" stroke="#ff0000" stroke-width="1"/>
<text transform="translate(210.40,248.75) scale(0.96,1)" text-anchor="end" font-family="Liberation Sans, sans-serif" font-size="10.6" fill="#ff0000">XOO_3642</text>
<line x1="171.12" y1="319.22" x2="213.18" y2="342.58" stroke="#ff0000" stroke-width="1"/>
<text transform="translate(169.15,319.50) scale(0.96,1)" text-anchor="end" font-family="Liberation Sans, sans-serif" font-size="10.6" fill="#ff0000">XOO_3634</text>
<line x1="106.20" y1="437.01" x2="137.90" y2="479.73" stroke="#ff0000" stroke-width="1"/>
<text transform="translate(104.90,437.50) scale(0.96,1)" text-anchor="end" font-family="Liberation Sans, sans-serif" font-size="10.6" fill="#ff0000">XOO_3619</text>
<line x1="97.98" y1="452.36" x2="133.91" y2="487.23" stroke="#ff0000" stroke-width="1"/>
<text transform="translate(95.90,452.50) scale(0.96,1)" text-anchor="end" font-family="Liberation Sans, sans-serif" font-size="10.6" fill="#ff0000">XOO_3618</text>
<line x1="87.94" y1="471.27" x2="131.58" y2="491.64" stroke="#ff0000" stroke-width="1"/>
<text transform="translate(85.90,471.75) scale(0.96,1)" text-anchor="end" font-family="Liberation Sans, sans-serif" font-size="10.6" fill="#ff0000">XOO_3617</text>
<line x1="79.52" y1="487.24" x2="127.43" y2="499.48" stroke="#ff0000" stroke-width="1"/>
<text transform="translate(77.90,487.50) scale(0.96,1)" text-anchor="end" font-family="Liberation Sans, sans-serif" font-size="10.6" fill="#ff0000">XOO_3616</text>
<line x1="71.61" y1="502.33" x2="116.74" y2="519.84" stroke="#ff0000" stroke-width="1"/>
<text transform="translate(69.65,502.50) scale(0.96,1)" text-anchor="end" font-family="Liberation Sans, sans-serif" font-size="10.6" fill="#ff0000">XOO_3614</text>
<line x1="63.88" y1="517.20" x2="114.34" y2="524.42" stroke="#ff0000" stroke-width="1"/>
<text transform="translate(62.90,517.50) scale(0.96,1)" text-anchor="end" font-family="Liberation Sans, sans-serif" font-size="10.6" fill="#ff0000">XOO_3613</text>
<line x1="538.78" y1="106.31" x2="498.92" y2="80.10" stroke="#0000ff" stroke-width="1"/>
<text transform="translate(540.10,108.75) scale(0.96,1)" font-family="Liberation Sans, sans-serif" font-size="10.6" fill="#0000ff">XOO_3676</text>
<line x1="524.27" y1="128.76" x2="464.71" y2="133.40" stroke="#0000ff" stroke-width="1"/>
<text transform="translate(525.35,132.50) scale(0.96,1)" font-family="Liberation Sans, sans-serif" font-size="10.6" fill="#0000ff">XOO_3670</text>
<line x1="514.84" y1="143.47" x2="461.31" y2="138.76" stroke="#0000ff" stroke-width="1"/>
<text transform="translate(515.85,146.75) scale(0.96,1)" font-family="Liberation Sans, sans-serif" font-size="10.6" fill="#0000ff">XOO_3669</text>
<line x1="505.90" y1="159.00" x2="438.86" y2="174.49" stroke="#0000ff" stroke-width="1"/>
<text transform="translate(507.60,162.50) scale(0.96,1)" font-family="Liberation Sans, sans-serif" font-size="10.6" fill="#0000ff">engB</text>
<line x1="494.96" y1="174.98" x2="435.79" y2="179.42" stroke="#0000ff" stroke-width="1"/>
<text transform="translate(496.35,178.75) scale(0.96,1)" font-family="Liberation Sans, sans-serif" font-size="10.6" fill="#0000ff">XOO_3662</text>
<line x1="484.98" y1="191.25" x2="433.88" y2="182.50" stroke="#0000ff" stroke-width="1"/>
<text transform="translate(486.35,194.50) scale(0.96,1)" font-family="Liberation Sans, sans-serif" font-size="10.6" fill="#0000ff">XOO_3661</text>
<line x1="475.84" y1="205.91" x2="425.04" y2="196.77" stroke="#0000ff" stroke-width="1"/>
<text transform="translate(477.10,208.50) scale(0.96,1)" font-family="Liberation Sans, sans-serif" font-size="10.6" fill="#0000ff">XOO_3659</text>
<line x1="465.76" y1="221.80" x2="411.13" y2="219.42" stroke="#0000ff" stroke-width="1"/>
<text transform="translate(467.10,225.00) scale(0.96,1)" font-family="Liberation Sans, sans-serif" font-size="10.6" fill="#0000ff">XOO_3657</text>
<line x1="456.38" y1="236.85" x2="405.83" y2="228.09" stroke="#0000ff" stroke-width="1"/>
<text transform="translate(458.35,239.50) scale(0.96,1)" font-family="Liberation Sans, sans-serif" font-size="10.6" fill="#0000ff">XOO_3656</text>
<line x1="447.49" y1="251.78" x2="398.25" y2="240.58" stroke="#0000ff" stroke-width="1"/>
<text transform="translate(449.10,254.50) scale(0.96,1)" font-family="Liberation Sans, sans-serif" font-size="10.6" fill="#0000ff">XOO_3654</text>
<line x1="438.71" y1="266.24" x2="393.84" y2="247.88" stroke="#0000ff" stroke-width="1"/>
<text transform="translate(440.35,269.50) scale(0.96,1)" font-family="Liberation Sans, sans-serif" font-size="10.6" fill="#0000ff">XOO_3653</text>
<line x1="428.03" y1="283.76" x2="379.13" y2="272.38" stroke="#0000ff" stroke-width="1"/>
<text transform="translate(429.10,286.25) scale(0.96,1)" font-family="Liberation Sans, sans-serif" font-size="10.6" fill="#0000ff">XOO_3650</text>
<line x1="418.73" y1="299.49" x2="374.90" y2="279.47" stroke="#0000ff" stroke-width="1"/>
<text transform="translate(420.35,302.50) scale(0.96,1)" font-family="Liberation Sans, sans-serif" font-size="10.6" fill="#0000ff">XOO_3649</text>
<line x1="421.31" y1="314.32" x2="371.70" y2="284.85" stroke="#0000ff" stroke-width="1"/>
<text transform="translate(422.60,317.25) scale(0.96,1)" font-family="Liberation Sans, sans-serif" font-size="10.6" fill="#0000ff">XOO_3648</text>
<line x1="413.96" y1="327.31" x2="363.88" y2="298.05" stroke="#0000ff" stroke-width="1"/>
<text transform="translate(415.20,330.25) scale(0.96,1)" font-family="Liberation Sans, sans-serif" font-size="10.6" fill="#0000ff">XOO_3646</text>
<line x1="452.49" y1="340.73" x2="367.99" y2="291.09" stroke="#0000ff" stroke-width="1"/>
<text transform="translate(453.35,343.75) scale(0.96,1)" font-family="Liberation Sans, sans-serif" font-size="10.6" fill="#0000ff">XOO_3647</text>
<line x1="393.02" y1="343.79" x2="355.28" y2="312.67" stroke="#0000ff" stroke-width="1"/>
<text transform="translate(394.10,347.00) scale(0.96,1)" font-family="Liberation Sans, sans-serif" font-size="10.6" fill="#0000ff">XOO_3644</text>
<line x1="453.09" y1="358.80" x2="360.15" y2="304.38" stroke="#0000ff" stroke-width="1"/>
<text transform="translate(454.10,361.75) scale(0.96,1)" font-family="Liberation Sans, sans-serif" font-size="10.6" fill="#0000ff">XOO_3645</text>
<line x1="383.64" y1="359.88" x2="342.51" y2="334.53" stroke="#0000ff" stroke-width="1"/>
<text transform="translate(385.10,361.75) scale(0.96,1)" font-family="Liberation Sans, sans-serif" font-size="10.6" fill="#0000ff">XOO_3641</text>
<line x1="375.53" y1="373.29" x2="332.74" y2="351.41" stroke="#0000ff" stroke-width="1"/>
<text transform="translate(377.10,375.75) scale(0.96,1)" font-family="Liberation Sans, sans-serif" font-size="10.6" fill="#0000ff">XOO_3640</text>
<line x1="368.50" y1="386.90" x2="324.05" y2="366.51" stroke="#0000ff" stroke-width="1"/>
<text transform="translate(370.10,390.00) scale(0.96,1)" font-family="Liberation Sans, sans-serif" font-size="10.6" fill="#0000ff">glyA</text>
<line x1="370.01" y1="402.99" x2="320.45" y2="372.81" stroke="#0000ff" stroke-width="1"/>
<text transform="translate(371.10,405.25) scale(0.96,1)" font-family="Liberation Sans, sans-serif" font-size="10.6" fill="#0000ff">XOO_3638</text>
<line x1="374.47" y1="415.76" x2="315.06" y2="382.27" stroke="#0000ff" stroke-width="1"/>
<text transform="translate(375.35,418.50) scale(0.96,1)" font-family="Liberation Sans, sans-serif" font-size="10.6" fill="#0000ff">XOO_3636</text>
<line x1="411.83" y1="431.18" x2="317.75" y2="377.54" stroke="#0000ff" stroke-width="1"/>
<text transform="translate(412.85,434.25) scale(0.96,1)" font-family="Liberation Sans, sans-serif" font-size="10.6" fill="#0000ff">nrdR</text>
<line x1="344.27" y1="428.71" x2="302.14" y2="405.09" stroke="#0000ff" stroke-width="1"/>
<text transform="translate(345.35,431.25) scale(0.96,1)" font-family="Liberation Sans, sans-serif" font-size="10.6" fill="#0000ff">XOO_3633</text>
<line x1="358.22" y1="444.50" x2="298.18" y2="412.13" stroke="#0000ff" stroke-width="1"/>
<text transform="translate(359.60,447.50) scale(0.96,1)" font-family="Liberation Sans, sans-serif" font-size="10.6" fill="#0000ff">XOO_3632</text>
<line x1="414.45" y1="447.01" x2="311.56" y2="388.42" stroke="#0000ff" stroke-width="1"/>
<text transform="translate(415.35,449.50) scale(0.96,1)" font-family="Liberation Sans, sans-serif" font-size="10.6" fill="#0000ff">XOO_3635</text>
<line x1="352.08" y1="456.48" x2="291.18" y2="424.63" stroke="#0000ff" stroke-width="1"/>
<text transform="translate(353.35,459.25) scale(0.96,1)" font-family="Liberation Sans, sans-serif" font-size="10.6" fill="#0000ff">nusB</text>
<line x1="333.21" y1="468.38" x2="282.31" y2="440.57" stroke="#0000ff" stroke-width="1"/>
<text transform="translate(333.85,471.25) scale(0.96,1)" font-family="Liberation Sans, sans-serif" font-size="10.6" fill="#0000ff">XOO_3628</text>
<line x1="325.91" y1="482.82" x2="274.46" y2="454.78" stroke="#0000ff" stroke-width="1"/>
<text transform="translate(327.10,485.75) scale(0.96,1)" font-family="Liberation Sans, sans-serif" font-size="10.6" fill="#0000ff">XOO_3626</text>
<line x1="381.79" y1="484.51" x2="286.94" y2="432.24" stroke="#0000ff" stroke-width="1"/>
<text transform="translate(382.85,487.50) scale(0.96,1)" font-family="Liberation Sans, sans-serif" font-size="10.6" fill="#0000ff">XOO_3629</text>
<line x1="374.00" y1="497.52" x2="279.54" y2="445.57" stroke="#0000ff" stroke-width="1"/>
<text transform="translate(375.10,500.50) scale(0.96,1)" font-family="Liberation Sans, sans-serif" font-size="10.6" fill="#0000ff">XOO_3627</text>
<line x1="432.02" y1="497.51" x2="293.30" y2="420.83" stroke="#0000ff" stroke-width="1"/>
<text transform="translate(433.35,500.00) scale(0.96,1)" font-family="Liberation Sans, sans-serif" font-size="10.6" fill="#0000ff">ribH</text>
<line x1="365.74" y1="512.50" x2="270.96" y2="461.14" stroke="#0000ff" stroke-width="1"/>
<text transform="translate(367.10,515.00) scale(0.96,1)" font-family="Liberation Sans, sans-serif" font-size="10.6" fill="#0000ff">XOO_3625</text>
<line x1="306.02" y1="496.42" x2="266.94" y2="468.46" stroke="#0000ff" stroke-width="1"/>
<text transform="translate(307.10,499.50) scale(0.96,1)" font-family="Liberation Sans, sans-serif" font-size="10.6" fill="#0000ff">XOO_3624</text>
<line x1="300.04" y1="508.03" x2="259.16" y2="482.72" stroke="#0000ff" stroke-width="1"/>
<text transform="translate(301.35,511.25) scale(0.96,1)" font-family="Liberation Sans, sans-serif" font-size="10.6" fill="#0000ff">XOO_3623</text>
<line x1="290.83" y1="525.05" x2="252.50" y2="495.00" stroke="#0000ff" stroke-width="1"/>
<text transform="translate(292.10,527.50) scale(0.96,1)" font-family="Liberation Sans, sans-serif" font-size="10.6" fill="#0000ff">XOO_3622</text>
<line x1="282.52" y1="540.51" x2="245.39" y2="508.18" stroke="#0000ff" stroke-width="1"/>
<text transform="translate(284.10,543.25) scale(0.96,1)" font-family="Liberation Sans, sans-serif" font-size="10.6" fill="#0000ff">XOO_3621</text>
<line x1="273.83" y1="556.79" x2="238.32" y2="521.37" stroke="#0000ff" stroke-width="1"/>
<text transform="translate(275.10,559.25) scale(0.96,1)" font-family="Liberation Sans, sans-serif" font-size="10.6" fill="#0000ff">XOO_3620</text>
<text x="209.58" y="574.06" font-family="Liberation Sans, sans-serif" font-size="8.2" fill="#222" textLength="37.8" lengthAdjust="spacingAndGlyphs">4090 kbp</text>
<text x="252.35" y="493.91" font-family="Liberation Sans, sans-serif" font-size="8.2" fill="#222" textLength="37.8" lengthAdjust="spacingAndGlyphs">4100 kbp</text>
<text x="296.33" y="414.42" font-family="Liberation Sans, sans-serif" font-size="8.2" fill="#222" textLength="37.8" lengthAdjust="spacingAndGlyphs">4110 kbp</text>
<text x="341.50" y="335.60" font-family="Liberation Sans, sans-serif" font-size="8.2" fill="#222" textLength="37.8" lengthAdjust="spacingAndGlyphs">4120 kbp</text>
<text x="387.84" y="257.46" font-family="Liberation Sans, sans-serif" font-size="8.2" fill="#222" textLength="37.8" lengthAdjust="spacingAndGlyphs">4130 kbp</text>
<text x="435.36" y="180.04" font-family="Liberation Sans, sans-serif" font-size="8.2" fill="#222" textLength="37.8" lengthAdjust="spacingAndGlyphs">4140 kbp</text>
<text x="484.04" y="103.33" font-family="Liberation Sans, sans-serif" font-size="8.2" fill="#222" textLength="37.8" lengthAdjust="spacingAndGlyphs">4150 kbp</text>
<text x="533.86" y="27.37" font-family="Liberation Sans, sans-serif" font-size="8.2" fill="#222" textLength="37.8" lengthAdjust="spacingAndGlyphs">4160 kbp</text>
<rect x="68.5" y="5" width="461.0" height="26" fill="#fff" fill-opacity="0.8"/>
<text x="73.75" y="23.25" font-family="Liberation Sans, sans-serif" font-size="13" font-style="italic" fill="#333" textLength="449" lengthAdjust="spacingAndGlyphs">Xanthomonas oryzae pv. oryzae MAFF 311018, complete genome</text>
<rect x="4.3" y="570.5" width="143.7" height="24.5" fill="#fff" fill-opacity="0.8"/>
<text x="9.3" y="586.7" font-family="Liberation Sans, sans-serif" font-size="12.2" fill="#222" textLength="133" lengthAdjust="spacingAndGlyphs">Accession: NC_007705</text>
<rect x="257.5" y="570.5" width="337.5" height="24.5" fill="#fff" fill-opacity="0.8"/>
<text x="262.8" y="586.5" font-family="Liberation Sans, sans-serif" font-size="12.2" fill="#222" textLength="327" lengthAdjust="spacingAndGlyphs">Topology: circular; Length: 4,940,217 bp; Genes: 4,431</text>
</svg></body></html>
